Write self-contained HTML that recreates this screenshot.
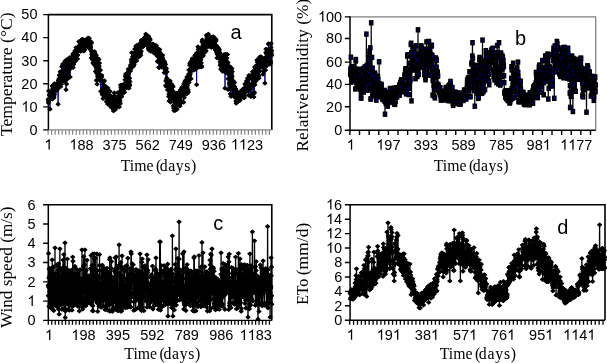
<!DOCTYPE html>
<html><head><meta charset="utf-8"><style>
html,body{margin:0;padding:0;background:#fff;width:607px;height:363px;overflow:hidden;position:relative}
</style></head><body>
<svg width="607" height="363" viewBox="0 0 607 363" style="position:absolute;left:0;top:0;will-change:transform">
<defs><marker id="dm" markerUnits="userSpaceOnUse" markerWidth="8" markerHeight="8" refX="4" refY="4" overflow="visible"><path d="M4 2.4L5.85 4L4 5.6L2.15 4Z" fill="#000" stroke="#000" stroke-width="1.3" stroke-linejoin="round"/></marker><marker id="sm" markerUnits="userSpaceOnUse" markerWidth="8" markerHeight="8" refX="4" refY="4" overflow="visible"><rect x="2.5" y="2.1" width="3" height="3.8" fill="#0000a0" stroke="#000" stroke-width="1.6"/></marker><path id="one" d="M763 0H583V1098Q518 1038 412.5 979Q307 920 223 890V1057Q374 1125 486.5 1221Q599 1318 646 1409H763Z"/></defs>
<path d="M48.40 14.60H271.80V129.90" fill="none" stroke="#000" stroke-width="1.6"/>
<path d="M48.40 13.90V130.60" stroke="#000" stroke-width="1.5"/>
<g transform="translate(29.44 134.70) scale(1 1.065)">
<text x="0.00" y="0" font-family='"Liberation Sans", sans-serif' font-size="14.5">0</text>
</g>
<g transform="translate(21.37 111.64) scale(1 1.065)">
<use href="#one" transform="translate(0.00 0) scale(0.00708 -0.00708)"/>
<text x="8.06" y="0" font-family='"Liberation Sans", sans-serif' font-size="14.5">0</text>
</g>
<g transform="translate(21.37 88.58) scale(1 1.065)">
<text x="0.00" y="0" font-family='"Liberation Sans", sans-serif' font-size="14.5">20</text>
</g>
<g transform="translate(21.37 65.52) scale(1 1.065)">
<text x="0.00" y="0" font-family='"Liberation Sans", sans-serif' font-size="14.5">30</text>
</g>
<g transform="translate(21.37 42.46) scale(1 1.065)">
<text x="0.00" y="0" font-family='"Liberation Sans", sans-serif' font-size="14.5">40</text>
</g>
<g transform="translate(21.37 19.40) scale(1 1.065)">
<text x="0.00" y="0" font-family='"Liberation Sans", sans-serif' font-size="14.5">50</text>
</g>
<path d="M43.20 129.90H48.40M43.20 106.84H48.40M43.20 83.78H48.40M43.20 60.72H48.40M43.20 37.66H48.40M43.20 14.60H48.40" stroke="#000" stroke-width="1.4"/>
<path d="M48.40 129.90H271.80" stroke="#888" stroke-width="1.4"/>
<path d="M48.10 129.9V134.7M51.61 129.9V134.7M55.13 129.9V134.7M58.64 129.9V134.7M62.15 129.9V134.7M65.66 129.9V134.7M69.18 129.9V134.7M72.69 129.9V134.7M76.20 129.9V134.7M79.72 129.9V134.7M83.23 129.9V134.7M86.74 129.9V134.7M90.26 129.9V134.7M93.77 129.9V134.7M97.28 129.9V134.7M100.80 129.9V134.7M104.31 129.9V134.7M107.82 129.9V134.7M111.33 129.9V134.7M114.85 129.9V134.7M118.36 129.9V134.7M121.87 129.9V134.7M125.39 129.9V134.7M128.90 129.9V134.7M132.41 129.9V134.7M135.93 129.9V134.7M139.44 129.9V134.7M142.95 129.9V134.7M146.46 129.9V134.7M149.98 129.9V134.7M153.49 129.9V134.7M157.00 129.9V134.7M160.52 129.9V134.7M164.03 129.9V134.7M167.54 129.9V134.7M171.06 129.9V134.7M174.57 129.9V134.7M178.08 129.9V134.7M181.59 129.9V134.7M185.11 129.9V134.7M188.62 129.9V134.7M192.13 129.9V134.7M195.65 129.9V134.7M199.16 129.9V134.7M202.67 129.9V134.7M206.19 129.9V134.7M209.70 129.9V134.7M213.21 129.9V134.7M216.72 129.9V134.7M220.24 129.9V134.7M223.75 129.9V134.7M227.26 129.9V134.7M230.78 129.9V134.7M234.29 129.9V134.7M237.80 129.9V134.7M241.32 129.9V134.7M244.83 129.9V134.7M248.34 129.9V134.7M251.85 129.9V134.7M255.37 129.9V134.7M258.88 129.9V134.7M262.39 129.9V134.7M265.91 129.9V134.7M269.42 129.9V134.7" stroke="#777" stroke-width="1.1"/>
<g transform="translate(44.37 149.50) scale(1 1.065)">
<use href="#one" transform="translate(0.00 0) scale(0.00708 -0.00708)"/>
</g>
<g transform="translate(69.40 149.50) scale(1 1.065)">
<use href="#one" transform="translate(0.00 0) scale(0.00708 -0.00708)"/>
<text x="8.06" y="0" font-family='"Liberation Sans", sans-serif' font-size="14.5">88</text>
</g>
<g transform="translate(102.50 149.50) scale(1 1.065)">
<text x="0.00" y="0" font-family='"Liberation Sans", sans-serif' font-size="14.5">375</text>
</g>
<g transform="translate(135.60 149.50) scale(1 1.065)">
<text x="0.00" y="0" font-family='"Liberation Sans", sans-serif' font-size="14.5">562</text>
</g>
<g transform="translate(168.70 149.50) scale(1 1.065)">
<text x="0.00" y="0" font-family='"Liberation Sans", sans-serif' font-size="14.5">749</text>
</g>
<g transform="translate(201.80 149.50) scale(1 1.065)">
<text x="0.00" y="0" font-family='"Liberation Sans", sans-serif' font-size="14.5">936</text>
</g>
<g transform="translate(230.87 149.50) scale(1 1.065)">
<use href="#one" transform="translate(0.00 0) scale(0.00708 -0.00708)"/>
<use href="#one" transform="translate(8.06 0) scale(0.00708 -0.00708)"/>
<text x="16.13" y="0" font-family='"Liberation Sans", sans-serif' font-size="14.5">23</text>
</g>
<path d="M350.00 16.90H595.70V130.20" fill="none" stroke="#808080" stroke-width="1.3"/>
<path d="M350.00 16.20V130.90" stroke="#000" stroke-width="1.5"/>
<g transform="translate(334.14 135.00) scale(1 1.065)">
<text x="0.00" y="0" font-family='"Liberation Sans", sans-serif' font-size="14.5">0</text>
</g>
<g transform="translate(326.07 111.50) scale(1 1.065)">
<text x="0.00" y="0" font-family='"Liberation Sans", sans-serif' font-size="14.5">20</text>
</g>
<g transform="translate(326.07 89.20) scale(1 1.065)">
<text x="0.00" y="0" font-family='"Liberation Sans", sans-serif' font-size="14.5">40</text>
</g>
<g transform="translate(326.07 66.90) scale(1 1.065)">
<text x="0.00" y="0" font-family='"Liberation Sans", sans-serif' font-size="14.5">60</text>
</g>
<g transform="translate(326.07 43.30) scale(1 1.065)">
<text x="0.00" y="0" font-family='"Liberation Sans", sans-serif' font-size="14.5">80</text>
</g>
<g transform="translate(318.01 21.70) scale(1 1.065)">
<use href="#one" transform="translate(0.00 0) scale(0.00708 -0.00708)"/>
<text x="8.06" y="0" font-family='"Liberation Sans", sans-serif' font-size="14.5">00</text>
</g>
<path d="M344.80 130.20H350.00M344.80 106.70H350.00M344.80 84.40H350.00M344.80 62.10H350.00M344.80 38.50H350.00M344.80 16.90H350.00" stroke="#000" stroke-width="1.4"/>
<path d="M350.00 130.20H595.70" stroke="#000" stroke-width="1.4"/>
<path d="M349.90 130.2V134.9M359.52 130.2V134.9M369.15 130.2V134.9M378.77 130.2V134.9M388.40 130.2V134.9M398.02 130.2V134.9M407.64 130.2V134.9M417.27 130.2V134.9M426.89 130.2V134.9M436.52 130.2V134.9M446.14 130.2V134.9M455.76 130.2V134.9M465.39 130.2V134.9M475.01 130.2V134.9M484.64 130.2V134.9M494.26 130.2V134.9M503.88 130.2V134.9M513.51 130.2V134.9M523.13 130.2V134.9M532.76 130.2V134.9M542.38 130.2V134.9M552.00 130.2V134.9M561.63 130.2V134.9M571.25 130.2V134.9M580.88 130.2V134.9M590.50 130.2V134.9" stroke="#000" stroke-width="1.4"/>
<g transform="translate(346.77 149.80) scale(1 1.065)">
<use href="#one" transform="translate(0.00 0) scale(0.00708 -0.00708)"/>
</g>
<g transform="translate(376.28 149.80) scale(1 1.065)">
<use href="#one" transform="translate(0.00 0) scale(0.00708 -0.00708)"/>
<text x="8.06" y="0" font-family='"Liberation Sans", sans-serif' font-size="14.5">97</text>
</g>
<g transform="translate(413.86 149.80) scale(1 1.065)">
<text x="0.00" y="0" font-family='"Liberation Sans", sans-serif' font-size="14.5">393</text>
</g>
<g transform="translate(451.44 149.80) scale(1 1.065)">
<text x="0.00" y="0" font-family='"Liberation Sans", sans-serif' font-size="14.5">589</text>
</g>
<g transform="translate(489.02 149.80) scale(1 1.065)">
<text x="0.00" y="0" font-family='"Liberation Sans", sans-serif' font-size="14.5">785</text>
</g>
<g transform="translate(526.60 149.80) scale(1 1.065)">
<text x="0.00" y="0" font-family='"Liberation Sans", sans-serif' font-size="14.5">98</text>
<use href="#one" transform="translate(16.13 0) scale(0.00708 -0.00708)"/>
</g>
<g transform="translate(560.15 149.80) scale(1 1.065)">
<use href="#one" transform="translate(0.00 0) scale(0.00708 -0.00708)"/>
<use href="#one" transform="translate(8.06 0) scale(0.00708 -0.00708)"/>
<text x="16.13" y="0" font-family='"Liberation Sans", sans-serif' font-size="14.5">77</text>
</g>
<path d="M48.30 204.70H271.80V320.40" fill="none" stroke="#000" stroke-width="1.6"/>
<path d="M48.30 204.00V321.10" stroke="#000" stroke-width="1.5"/>
<g transform="translate(27.44 325.20) scale(1 1.065)">
<text x="0.00" y="0" font-family='"Liberation Sans", sans-serif' font-size="14.5">0</text>
</g>
<g transform="translate(27.44 305.92) scale(1 1.065)">
<use href="#one" transform="translate(0.00 0) scale(0.00708 -0.00708)"/>
</g>
<g transform="translate(27.44 286.63) scale(1 1.065)">
<text x="0.00" y="0" font-family='"Liberation Sans", sans-serif' font-size="14.5">2</text>
</g>
<g transform="translate(27.44 267.35) scale(1 1.065)">
<text x="0.00" y="0" font-family='"Liberation Sans", sans-serif' font-size="14.5">3</text>
</g>
<g transform="translate(27.44 248.07) scale(1 1.065)">
<text x="0.00" y="0" font-family='"Liberation Sans", sans-serif' font-size="14.5">4</text>
</g>
<g transform="translate(27.44 228.78) scale(1 1.065)">
<text x="0.00" y="0" font-family='"Liberation Sans", sans-serif' font-size="14.5">5</text>
</g>
<g transform="translate(27.44 209.50) scale(1 1.065)">
<text x="0.00" y="0" font-family='"Liberation Sans", sans-serif' font-size="14.5">6</text>
</g>
<path d="M43.10 320.40H48.30M43.10 301.12H48.30M43.10 281.83H48.30M43.10 262.55H48.30M43.10 243.27H48.30M43.10 223.98H48.30M43.10 204.70H48.30" stroke="#000" stroke-width="1.4"/>
<path d="M48.30 320.40H271.80" stroke="#000" stroke-width="1.4"/>
<path d="M48.30 320.4V324.7M51.75 320.4V324.7M55.21 320.4V324.7M58.66 320.4V324.7M62.12 320.4V324.7M65.57 320.4V324.7M69.03 320.4V324.7M72.48 320.4V324.7M75.94 320.4V324.7M79.39 320.4V324.7M82.85 320.4V324.7M86.30 320.4V324.7M89.76 320.4V324.7M93.21 320.4V324.7M96.67 320.4V324.7M100.12 320.4V324.7M103.58 320.4V324.7M107.03 320.4V324.7M110.49 320.4V324.7M113.94 320.4V324.7M117.40 320.4V324.7M120.85 320.4V324.7M124.31 320.4V324.7M127.76 320.4V324.7M131.22 320.4V324.7M134.67 320.4V324.7M138.13 320.4V324.7M141.59 320.4V324.7M145.04 320.4V324.7M148.50 320.4V324.7M151.95 320.4V324.7M155.41 320.4V324.7M158.86 320.4V324.7M162.32 320.4V324.7M165.77 320.4V324.7M169.23 320.4V324.7M172.68 320.4V324.7M176.14 320.4V324.7M179.59 320.4V324.7M183.05 320.4V324.7M186.50 320.4V324.7M189.96 320.4V324.7M193.41 320.4V324.7M196.87 320.4V324.7M200.32 320.4V324.7M203.78 320.4V324.7M207.23 320.4V324.7M210.69 320.4V324.7M214.14 320.4V324.7M217.60 320.4V324.7M221.05 320.4V324.7M224.51 320.4V324.7M227.96 320.4V324.7M231.42 320.4V324.7M234.87 320.4V324.7M238.33 320.4V324.7M241.78 320.4V324.7M245.24 320.4V324.7M248.69 320.4V324.7M252.15 320.4V324.7M255.60 320.4V324.7M259.06 320.4V324.7M262.51 320.4V324.7M265.97 320.4V324.7M269.42 320.4V324.7" stroke="#000" stroke-width="1.3"/>
<g transform="translate(44.97 340.00) scale(1 1.065)">
<use href="#one" transform="translate(0.00 0) scale(0.00708 -0.00708)"/>
</g>
<g transform="translate(71.35 340.00) scale(1 1.065)">
<use href="#one" transform="translate(0.00 0) scale(0.00708 -0.00708)"/>
<text x="8.06" y="0" font-family='"Liberation Sans", sans-serif' font-size="14.5">98</text>
</g>
<g transform="translate(105.80 340.00) scale(1 1.065)">
<text x="0.00" y="0" font-family='"Liberation Sans", sans-serif' font-size="14.5">395</text>
</g>
<g transform="translate(140.25 340.00) scale(1 1.065)">
<text x="0.00" y="0" font-family='"Liberation Sans", sans-serif' font-size="14.5">592</text>
</g>
<g transform="translate(174.70 340.00) scale(1 1.065)">
<text x="0.00" y="0" font-family='"Liberation Sans", sans-serif' font-size="14.5">789</text>
</g>
<g transform="translate(209.15 340.00) scale(1 1.065)">
<text x="0.00" y="0" font-family='"Liberation Sans", sans-serif' font-size="14.5">986</text>
</g>
<g transform="translate(239.57 340.00) scale(1 1.065)">
<use href="#one" transform="translate(0.00 0) scale(0.00708 -0.00708)"/>
<use href="#one" transform="translate(8.06 0) scale(0.00708 -0.00708)"/>
<text x="16.13" y="0" font-family='"Liberation Sans", sans-serif' font-size="14.5">83</text>
</g>
<path d="M350.10 204.80H605.00V320.20" fill="none" stroke="#000" stroke-width="1.6"/>
<path d="M350.10 204.10V320.90" stroke="#000" stroke-width="1.5"/>
<g transform="translate(334.14 325.00) scale(1 1.065)">
<text x="0.00" y="0" font-family='"Liberation Sans", sans-serif' font-size="14.5">0</text>
</g>
<g transform="translate(334.14 310.57) scale(1 1.065)">
<text x="0.00" y="0" font-family='"Liberation Sans", sans-serif' font-size="14.5">2</text>
</g>
<g transform="translate(334.14 296.15) scale(1 1.065)">
<text x="0.00" y="0" font-family='"Liberation Sans", sans-serif' font-size="14.5">4</text>
</g>
<g transform="translate(334.14 281.73) scale(1 1.065)">
<text x="0.00" y="0" font-family='"Liberation Sans", sans-serif' font-size="14.5">6</text>
</g>
<g transform="translate(334.14 267.30) scale(1 1.065)">
<text x="0.00" y="0" font-family='"Liberation Sans", sans-serif' font-size="14.5">8</text>
</g>
<g transform="translate(326.07 252.88) scale(1 1.065)">
<use href="#one" transform="translate(0.00 0) scale(0.00708 -0.00708)"/>
<text x="8.06" y="0" font-family='"Liberation Sans", sans-serif' font-size="14.5">0</text>
</g>
<g transform="translate(326.07 238.45) scale(1 1.065)">
<use href="#one" transform="translate(0.00 0) scale(0.00708 -0.00708)"/>
<text x="8.06" y="0" font-family='"Liberation Sans", sans-serif' font-size="14.5">2</text>
</g>
<g transform="translate(326.07 224.03) scale(1 1.065)">
<use href="#one" transform="translate(0.00 0) scale(0.00708 -0.00708)"/>
<text x="8.06" y="0" font-family='"Liberation Sans", sans-serif' font-size="14.5">4</text>
</g>
<g transform="translate(326.07 209.60) scale(1 1.065)">
<use href="#one" transform="translate(0.00 0) scale(0.00708 -0.00708)"/>
<text x="8.06" y="0" font-family='"Liberation Sans", sans-serif' font-size="14.5">6</text>
</g>
<path d="M344.90 320.20H350.10M344.90 305.77H350.10M344.90 291.35H350.10M344.90 276.93H350.10M344.90 262.50H350.10M344.90 248.07H350.10M344.90 233.65H350.10M344.90 219.23H350.10M344.90 204.80H350.10" stroke="#000" stroke-width="1.4"/>
<path d="M350.10 320.20H605.00" stroke="#000" stroke-width="1.4"/>
<path d="M349.70 320.2V324.8M353.60 320.2V324.8M357.49 320.2V324.8M361.39 320.2V324.8M365.29 320.2V324.8M369.18 320.2V324.8M373.08 320.2V324.8M376.98 320.2V324.8M380.88 320.2V324.8M384.77 320.2V324.8M388.67 320.2V324.8M392.57 320.2V324.8M396.46 320.2V324.8M400.36 320.2V324.8M404.26 320.2V324.8M408.15 320.2V324.8M412.05 320.2V324.8M415.95 320.2V324.8M419.85 320.2V324.8M423.74 320.2V324.8M427.64 320.2V324.8M431.54 320.2V324.8M435.43 320.2V324.8M439.33 320.2V324.8M443.23 320.2V324.8M447.12 320.2V324.8M451.02 320.2V324.8M454.92 320.2V324.8M458.82 320.2V324.8M462.71 320.2V324.8M466.61 320.2V324.8M470.51 320.2V324.8M474.40 320.2V324.8M478.30 320.2V324.8M482.20 320.2V324.8M486.09 320.2V324.8M489.99 320.2V324.8M493.89 320.2V324.8M497.79 320.2V324.8M501.68 320.2V324.8M505.58 320.2V324.8M509.48 320.2V324.8M513.37 320.2V324.8M517.27 320.2V324.8M521.17 320.2V324.8M525.06 320.2V324.8M528.96 320.2V324.8M532.86 320.2V324.8M536.76 320.2V324.8M540.65 320.2V324.8M544.55 320.2V324.8M548.45 320.2V324.8M552.34 320.2V324.8M556.24 320.2V324.8M560.14 320.2V324.8M564.04 320.2V324.8M567.93 320.2V324.8M571.83 320.2V324.8M575.73 320.2V324.8M579.62 320.2V324.8M583.52 320.2V324.8M587.42 320.2V324.8M591.31 320.2V324.8M595.21 320.2V324.8M599.11 320.2V324.8M603.01 320.2V324.8" stroke="#000" stroke-width="1.3"/>
<g transform="translate(346.77 339.80) scale(1 1.065)">
<use href="#one" transform="translate(0.00 0) scale(0.00708 -0.00708)"/>
</g>
<g transform="translate(376.78 339.80) scale(1 1.065)">
<use href="#one" transform="translate(0.00 0) scale(0.00708 -0.00708)"/>
<text x="8.06" y="0" font-family='"Liberation Sans", sans-serif' font-size="14.5">9</text>
<use href="#one" transform="translate(16.13 0) scale(0.00708 -0.00708)"/>
</g>
<g transform="translate(414.86 339.80) scale(1 1.065)">
<text x="0.00" y="0" font-family='"Liberation Sans", sans-serif' font-size="14.5">38</text>
<use href="#one" transform="translate(16.13 0) scale(0.00708 -0.00708)"/>
</g>
<g transform="translate(452.94 339.80) scale(1 1.065)">
<text x="0.00" y="0" font-family='"Liberation Sans", sans-serif' font-size="14.5">57</text>
<use href="#one" transform="translate(16.13 0) scale(0.00708 -0.00708)"/>
</g>
<g transform="translate(491.02 339.80) scale(1 1.065)">
<text x="0.00" y="0" font-family='"Liberation Sans", sans-serif' font-size="14.5">76</text>
<use href="#one" transform="translate(16.13 0) scale(0.00708 -0.00708)"/>
</g>
<g transform="translate(529.10 339.80) scale(1 1.065)">
<text x="0.00" y="0" font-family='"Liberation Sans", sans-serif' font-size="14.5">95</text>
<use href="#one" transform="translate(16.13 0) scale(0.00708 -0.00708)"/>
</g>
<g transform="translate(563.15 339.80) scale(1 1.065)">
<use href="#one" transform="translate(0.00 0) scale(0.00708 -0.00708)"/>
<use href="#one" transform="translate(8.06 0) scale(0.00708 -0.00708)"/>
<text x="16.13" y="0" font-family='"Liberation Sans", sans-serif' font-size="14.5">4</text>
<use href="#one" transform="translate(24.19 0) scale(0.00708 -0.00708)"/>
</g>
<polyline points="48.2,99.4 48.4,102.8 48.6,101.0 48.7,90.9 48.9,99.9 49.1,100.2 49.3,95.0 49.4,99.0 49.6,99.2 49.8,98.7 50.0,109.2 50.1,99.1 50.3,93.5 50.5,94.2 50.7,93.0 50.8,97.3 51.0,96.2 51.2,94.2 51.4,91.2 51.6,92.3 51.7,93.5 51.9,92.6 52.1,98.5 52.3,99.2 52.4,85.9 52.6,85.7 52.8,88.3 53.0,89.2 53.1,91.8 53.3,92.5 53.5,98.2 53.7,89.9 53.8,89.0 54.0,97.1 54.2,95.0 54.4,94.0 54.6,89.3 54.7,83.6 54.9,87.7 55.1,88.8 55.3,84.5 55.4,84.8 55.6,86.8 55.8,84.4 56.0,86.4 56.1,87.6 56.3,87.7 56.5,85.8 56.7,88.8 56.8,90.7 57.0,89.3 57.2,84.8 57.4,88.4 57.6,85.4 57.7,88.9 57.9,83.4 58.1,104.2 58.3,86.1 58.4,80.2 58.6,81.3 58.8,83.0 59.0,84.4 59.1,78.6 59.3,75.3 59.5,80.4 59.7,78.4 59.8,81.3 60.0,85.1 60.2,71.7 60.4,78.2 60.6,86.7 60.7,79.4 60.9,72.9 61.1,81.2 61.3,80.4 61.4,84.2 61.6,76.9 61.8,66.7 62.0,72.0 62.1,71.5 62.3,78.8 62.5,77.4 62.7,65.6 62.8,64.1 63.0,75.7 63.2,78.7 63.4,71.8 63.6,73.3 63.7,76.7 63.9,78.1 64.1,81.4 64.3,78.5 64.4,75.1 64.6,72.8 64.8,81.3 65.0,61.2 65.1,68.4 65.3,72.5 65.5,62.9 65.7,72.9 65.8,68.8 66.0,89.7 66.2,74.6 66.4,78.8 66.6,84.0 66.7,79.1 66.9,67.9 67.1,59.3 67.3,79.1 67.4,72.6 67.6,66.1 67.8,69.2 68.0,67.7 68.1,73.8 68.3,70.7 68.5,69.3 68.7,64.3 68.8,69.7 69.0,62.5 69.2,69.9 69.4,77.3 69.6,62.3 69.7,57.5 69.9,65.4 70.1,77.0 70.3,66.3 70.4,60.2 70.6,67.5 70.8,62.7 71.0,62.6 71.1,63.1 71.3,67.5 71.5,64.0 71.7,66.1 71.8,64.2 72.0,59.7 72.2,60.7 72.4,57.3 72.6,61.1 72.7,55.9 72.9,53.9 73.1,67.6 73.3,63.6 73.4,61.9 73.6,64.4 73.8,59.5 74.0,58.7 74.1,61.9 74.3,61.7 74.5,53.3 74.7,60.8 74.8,55.6 75.0,51.5 75.2,50.6 75.4,52.4 75.6,60.8 75.7,52.2 75.9,54.0 76.1,47.6 76.3,50.8 76.4,55.5 76.6,52.7 76.8,50.0 77.0,52.1 77.1,54.6 77.3,55.2 77.5,58.8 77.7,55.1 77.8,49.2 78.0,49.0 78.2,48.9 78.4,49.4 78.6,48.7 78.7,49.0 78.9,41.6 79.1,48.6 79.3,45.4 79.4,42.0 79.6,46.9 79.8,50.5 80.0,48.6 80.1,47.0 80.3,43.1 80.5,51.1 80.7,51.1 80.8,43.8 81.0,42.3 81.2,44.6 81.4,40.1 81.6,44.0 81.7,43.3 81.9,48.6 82.1,49.5 82.3,39.3 82.4,42.7 82.6,39.2 82.8,46.7 83.0,46.2 83.1,47.3 83.3,42.3 83.5,50.2 83.7,51.2 83.8,44.4 84.0,46.1 84.2,43.0 84.4,44.1 84.6,40.2 84.7,49.7 84.9,43.1 85.1,43.1 85.3,45.9 85.4,42.7 85.6,43.0 85.8,41.9 86.0,43.1 86.1,39.6 86.3,41.1 86.5,42.4 86.7,42.4 86.8,43.8 87.0,42.9 87.2,46.7 87.4,43.8 87.6,43.4 87.7,41.2 87.9,40.9 88.1,37.9 88.3,44.4 88.4,40.0 88.6,40.3 88.8,45.3 89.0,47.4 89.1,44.9 89.3,38.4 89.5,45.3 89.7,47.7 89.8,41.2 90.0,49.1 90.2,45.2 90.4,42.0 90.6,46.9 90.7,47.5 90.9,49.8 91.1,41.9 91.3,57.9 91.4,51.0 91.6,42.9 91.8,54.4 92.0,52.6 92.1,57.5 92.3,54.9 92.5,56.7 92.7,60.0 92.8,53.5 93.0,62.9 93.2,57.4 93.4,52.9 93.6,58.8 93.7,63.8 93.9,61.0 94.1,55.9 94.3,64.8 94.4,51.5 94.6,52.3 94.8,60.3 95.0,53.7 95.1,61.3 95.3,63.7 95.5,71.4 95.7,61.8 95.8,60.8 96.0,67.3 96.2,55.2 96.4,80.3 96.6,69.0 96.7,64.1 96.9,73.4 97.1,84.2 97.3,58.0 97.4,70.2 97.6,76.3 97.8,69.4 98.0,68.2 98.1,73.5 98.3,65.2 98.5,72.5 98.7,73.4 98.8,67.2 99.0,59.4 99.2,65.9 99.4,63.1 99.6,77.3 99.7,75.6 99.9,80.4 100.1,77.2 100.3,77.8 100.4,70.2 100.6,79.8 100.8,91.3 101.0,81.0 101.1,75.6 101.3,77.6 101.5,76.6 101.7,75.3 101.8,81.6 102.0,81.3 102.2,93.9 102.4,88.8 102.6,89.9 102.7,95.0 102.9,89.1 103.1,98.6 103.3,88.7 103.4,84.4 103.6,86.0 103.8,88.3 104.0,81.5 104.1,87.6 104.3,80.6 104.5,96.1 104.7,93.1 104.9,89.0 105.0,86.3 105.2,88.6 105.4,90.5 105.6,86.8 105.7,86.4 105.9,90.4 106.1,90.1 106.3,97.8 106.4,101.6 106.6,97.2 106.8,98.1 107.0,89.4 107.1,96.4 107.3,95.6 107.5,97.9 107.7,104.1 107.9,88.1 108.0,94.6 108.2,90.7 108.4,97.5 108.6,91.0 108.7,92.8 108.9,97.1 109.1,100.8 109.3,99.7 109.4,95.1 109.6,94.9 109.8,102.4 110.0,100.7 110.1,91.4 110.3,101.7 110.5,103.3 110.7,106.6 110.9,101.4 111.0,106.1 111.2,97.2 111.4,103.1 111.6,99.3 111.7,104.4 111.9,107.9 112.1,99.6 112.3,100.5 112.4,101.2 112.6,107.7 112.8,107.4 113.0,96.8 113.1,102.1 113.3,105.5 113.5,110.9 113.7,96.7 113.9,96.7 114.0,106.7 114.2,95.9 114.4,92.9 114.6,100.9 114.7,106.3 114.9,99.4 115.1,103.3 115.3,102.5 115.4,109.4 115.6,104.1 115.8,107.3 116.0,98.9 116.1,99.7 116.3,100.4 116.5,106.8 116.7,106.3 116.9,99.7 117.0,104.3 117.2,106.4 117.4,103.0 117.6,101.0 117.7,100.3 117.9,92.6 118.1,98.6 118.3,100.7 118.4,95.8 118.6,101.8 118.8,93.0 119.0,93.7 119.1,94.1 119.3,107.0 119.5,92.2 119.7,98.4 119.9,102.4 120.0,100.5 120.2,103.7 120.4,92.6 120.6,85.1 120.7,93.7 120.9,87.2 121.1,89.2 121.3,85.1 121.4,94.7 121.6,96.7 121.8,89.1 122.0,94.1 122.1,91.6 122.3,89.2 122.5,88.9 122.7,87.2 122.9,90.2 123.0,89.6 123.2,86.0 123.4,90.8 123.6,84.7 123.7,86.5 123.9,87.5 124.1,92.4 124.3,84.7 124.4,92.2 124.6,87.3 124.8,83.6 125.0,79.8 125.1,84.0 125.3,82.8 125.5,76.6 125.7,74.0 125.9,75.5 126.0,75.2 126.2,83.6 126.4,87.9 126.6,86.7 126.7,83.4 126.9,77.7 127.1,78.1 127.3,82.5 127.4,87.3 127.6,86.9 127.8,78.4 128.0,77.0 128.1,73.0 128.3,69.2 128.5,71.2 128.7,74.1 128.9,85.9 129.0,88.2 129.2,84.1 129.4,85.5 129.6,78.2 129.7,85.2 129.9,81.6 130.1,70.2 130.3,71.2 130.4,69.1 130.6,66.0 130.8,64.7 131.0,66.3 131.1,68.3 131.3,59.5 131.5,61.9 131.7,52.7 131.9,60.3 132.0,64.5 132.2,62.6 132.4,62.2 132.6,63.1 132.7,56.7 132.9,56.5 133.1,60.1 133.3,63.6 133.4,61.5 133.6,66.1 133.8,61.4 134.0,63.0 134.1,64.6 134.3,58.3 134.5,52.8 134.7,49.1 134.9,53.8 135.0,59.3 135.2,57.4 135.4,56.1 135.6,53.2 135.7,56.2 135.9,46.0 136.1,51.8 136.3,53.0 136.4,47.1 136.6,60.8 136.8,49.5 137.0,46.8 137.1,45.2 137.3,55.0 137.5,49.2 137.7,54.2 137.9,55.5 138.0,54.4 138.2,46.5 138.4,46.9 138.6,57.2 138.7,47.2 138.9,45.7 139.1,48.0 139.3,53.0 139.4,52.1 139.6,53.7 139.8,46.2 140.0,52.2 140.1,52.5 140.3,43.0 140.5,53.2 140.7,55.3 140.9,48.1 141.0,47.3 141.2,51.2 141.4,42.9 141.6,40.2 141.7,40.2 141.9,41.2 142.1,41.5 142.3,44.0 142.4,43.9 142.6,40.1 142.8,42.8 143.0,46.6 143.1,46.3 143.3,45.6 143.5,42.6 143.7,43.9 143.9,38.8 144.0,41.6 144.2,40.3 144.4,43.2 144.6,42.4 144.7,37.5 144.9,39.3 145.1,43.2 145.3,37.5 145.4,37.2 145.6,36.4 145.8,34.0 146.0,40.5 146.1,44.1 146.3,44.0 146.5,42.4 146.7,40.9 146.9,41.5 147.0,38.6 147.2,43.3 147.4,45.6 147.6,46.3 147.7,41.4 147.9,42.0 148.1,41.4 148.3,48.7 148.4,45.4 148.6,36.3 148.8,42.1 149.0,50.2 149.1,48.6 149.3,49.1 149.5,46.4 149.7,38.6 149.9,39.2 150.0,40.0 150.2,43.8 150.4,47.2 150.6,49.8 150.7,47.9 150.9,51.4 151.1,49.1 151.3,47.0 151.4,50.6 151.6,47.0 151.8,44.0 152.0,44.0 152.1,47.1 152.3,44.0 152.5,44.7 152.7,46.5 152.9,44.2 153.0,44.0 153.2,45.6 153.4,46.1 153.6,50.9 153.7,50.3 153.9,45.2 154.1,45.2 154.3,49.2 154.4,53.2 154.6,51.5 154.8,50.5 155.0,53.4 155.1,50.8 155.3,48.9 155.5,45.5 155.7,46.7 155.9,53.8 156.0,47.4 156.2,48.8 156.4,45.7 156.6,48.9 156.7,52.8 156.9,51.1 157.1,54.3 157.3,56.1 157.4,56.1 157.6,61.7 157.8,61.1 158.0,55.3 158.1,51.3 158.3,48.9 158.5,56.3 158.7,54.2 158.9,67.3 159.0,67.6 159.2,61.3 159.4,56.6 159.6,67.5 159.7,49.5 159.9,52.2 160.1,61.9 160.3,54.1 160.4,54.2 160.6,55.4 160.8,62.0 161.0,61.4 161.1,62.9 161.3,64.6 161.5,62.5 161.7,67.2 161.9,60.4 162.0,55.4 162.2,54.9 162.4,55.7 162.6,57.9 162.7,66.4 162.9,66.3 163.1,63.4 163.3,60.7 163.4,62.5 163.6,64.0 163.8,64.2 164.0,60.8 164.1,64.2 164.3,72.7 164.5,61.9 164.7,66.8 164.9,63.0 165.0,69.4 165.2,68.5 165.4,64.6 165.6,71.1 165.7,85.4 165.9,81.0 166.1,86.5 166.3,81.3 166.4,68.4 166.6,79.1 166.8,78.2 167.0,71.8 167.1,84.3 167.3,86.1 167.5,82.1 167.7,90.1 167.9,82.3 168.0,89.8 168.2,82.5 168.4,89.8 168.6,82.2 168.7,96.5 168.9,93.9 169.1,101.0 169.3,89.2 169.4,87.7 169.6,96.0 169.8,80.7 170.0,81.3 170.1,95.7 170.3,97.7 170.5,102.1 170.7,95.4 170.9,99.2 171.0,92.1 171.2,85.4 171.4,84.0 171.6,87.6 171.7,90.2 171.9,90.8 172.1,85.4 172.3,85.6 172.4,86.5 172.6,96.3 172.8,93.9 173.0,91.2 173.1,86.8 173.3,105.9 173.5,94.3 173.7,108.2 173.9,110.6 174.0,105.6 174.2,98.1 174.4,99.9 174.6,92.8 174.7,99.0 174.9,99.7 175.1,103.0 175.3,106.7 175.4,110.5 175.6,102.4 175.8,107.0 176.0,98.4 176.1,94.9 176.3,95.2 176.5,93.4 176.7,103.3 176.9,106.4 177.0,109.3 177.2,103.4 177.4,102.9 177.6,98.4 177.7,93.8 177.9,100.5 178.1,101.8 178.3,95.4 178.4,101.6 178.6,92.3 178.8,96.6 179.0,95.6 179.1,95.5 179.3,92.5 179.5,101.6 179.7,102.6 179.9,106.0 180.0,101.6 180.2,92.4 180.4,93.7 180.6,89.7 180.7,96.8 180.9,103.1 181.1,100.5 181.3,94.3 181.4,93.1 181.6,95.7 181.8,87.4 182.0,93.1 182.1,95.2 182.3,91.8 182.5,91.2 182.7,94.0 182.9,89.6 183.0,87.9 183.2,95.6 183.4,95.2 183.6,102.3 183.7,91.1 183.9,83.8 184.1,93.8 184.3,97.4 184.4,90.0 184.6,83.5 184.8,88.0 185.0,81.8 185.1,85.1 185.3,81.0 185.5,83.8 185.7,80.2 185.9,83.0 186.0,94.2 186.2,88.6 186.4,91.8 186.6,85.4 186.7,81.5 186.9,77.1 187.1,87.8 187.3,85.6 187.4,93.4 187.6,80.7 187.8,81.0 188.0,82.3 188.1,89.8 188.3,92.0 188.5,81.8 188.7,74.2 188.9,69.9 189.0,82.6 189.2,79.2 189.4,74.4 189.6,75.5 189.7,65.2 189.9,63.5 190.1,72.8 190.3,73.9 190.4,71.8 190.6,62.4 190.8,69.0 191.0,78.8 191.1,61.4 191.3,64.0 191.5,61.8 191.7,66.4 191.9,65.6 192.0,64.2 192.2,58.7 192.4,62.6 192.6,59.9 192.7,62.1 192.9,63.3 193.1,68.4 193.3,62.1 193.4,61.5 193.6,70.1 193.8,64.6 194.0,62.3 194.1,68.3 194.3,66.5 194.5,64.6 194.7,64.5 194.9,55.8 195.0,62.5 195.2,69.4 195.4,67.4 195.6,54.8 195.7,60.3 195.9,55.7 196.1,57.5 196.3,59.8 196.4,53.3 196.6,84.7 196.8,60.5 197.0,63.6 197.1,63.6 197.3,67.4 197.5,67.7 197.7,52.6 197.9,55.6 198.0,46.8 198.2,49.4 198.4,57.7 198.6,61.7 198.7,65.3 198.9,56.1 199.1,57.0 199.3,55.6 199.4,63.1 199.6,66.8 199.8,55.4 200.0,66.9 200.1,63.0 200.3,52.9 200.5,57.1 200.7,59.9 200.9,59.1 201.0,49.1 201.2,62.9 201.4,56.1 201.6,65.9 201.7,67.0 201.9,46.9 202.1,41.8 202.3,39.9 202.4,48.5 202.6,49.5 202.8,50.9 203.0,44.0 203.1,49.1 203.3,55.8 203.5,42.6 203.7,44.0 203.9,46.2 204.0,44.9 204.2,44.1 204.4,52.2 204.6,52.6 204.7,51.0 204.9,43.4 205.1,51.9 205.3,48.7 205.4,43.0 205.6,41.9 205.8,40.7 206.0,50.8 206.1,46.6 206.3,44.3 206.5,35.2 206.7,42.5 206.9,37.9 207.0,35.9 207.2,42.2 207.4,38.2 207.6,43.6 207.7,46.5 207.9,35.7 208.1,38.6 208.3,34.0 208.4,38.4 208.6,43.8 208.8,36.9 209.0,46.6 209.1,42.1 209.3,37.3 209.5,39.6 209.7,43.8 209.9,37.5 210.0,40.3 210.2,36.5 210.4,44.2 210.6,43.2 210.7,41.0 210.9,45.1 211.1,38.7 211.3,39.6 211.4,47.3 211.6,43.5 211.8,47.1 212.0,44.5 212.1,40.6 212.3,40.8 212.5,41.9 212.7,40.8 212.9,39.0 213.0,38.6 213.2,36.6 213.4,40.5 213.6,42.9 213.7,44.9 213.9,37.5 214.1,43.2 214.3,42.6 214.4,38.0 214.6,41.5 214.8,45.4 215.0,46.3 215.1,47.6 215.3,49.3 215.5,50.1 215.7,47.3 215.9,39.3 216.0,40.9 216.2,46.5 216.4,45.4 216.6,50.2 216.7,52.8 216.9,50.8 217.1,57.9 217.3,48.8 217.4,54.6 217.6,50.2 217.8,47.3 218.0,53.8 218.2,50.0 218.3,57.1 218.5,48.5 218.7,52.6 218.9,49.2 219.0,52.0 219.2,52.9 219.4,49.7 219.6,58.9 219.7,52.8 219.9,52.9 220.1,61.8 220.3,65.3 220.4,65.3 220.6,63.9 220.8,69.3 221.0,59.5 221.2,57.3 221.3,55.5 221.5,63.7 221.7,63.9 221.9,68.0 222.0,68.9 222.2,63.8 222.4,59.4 222.6,57.1 222.7,71.5 222.9,71.0 223.1,69.1 223.3,63.9 223.4,62.8 223.6,61.8 223.8,61.6 224.0,54.5 224.2,59.0 224.3,60.5 224.5,64.9 224.7,66.1 224.9,70.5 225.0,88.2 225.2,70.8 225.4,54.4 225.6,54.4 225.7,72.6 225.9,60.4 226.1,62.3 226.3,69.6 226.4,61.7 226.6,70.5 226.8,58.3 227.0,54.5 227.2,54.5 227.3,54.6 227.5,62.7 227.7,65.2 227.9,72.3 228.0,62.4 228.2,89.7 228.4,79.0 228.6,74.6 228.7,78.2 228.9,72.7 229.1,67.0 229.3,72.4 229.4,83.1 229.6,84.5 229.8,88.1 230.0,73.9 230.2,66.7 230.3,94.0 230.5,80.2 230.7,83.6 230.9,87.8 231.0,96.5 231.2,73.1 231.4,74.2 231.6,75.8 231.7,78.2 231.9,68.6 232.1,76.6 232.3,71.4 232.4,80.3 232.6,89.7 232.8,93.8 233.0,82.9 233.2,94.5 233.3,86.2 233.5,81.4 233.7,81.8 233.9,83.2 234.0,90.2 234.2,96.6 234.4,82.6 234.6,86.6 234.7,96.1 234.9,95.8 235.1,97.4 235.3,88.5 235.4,97.3 235.6,89.2 235.8,94.3 236.0,101.0 236.2,103.3 236.3,101.3 236.5,101.4 236.7,95.7 236.9,94.4 237.0,100.2 237.2,97.9 237.4,96.8 237.6,92.1 237.7,95.9 237.9,98.9 238.1,95.4 238.3,95.2 238.4,101.4 238.6,99.1 238.8,96.9 239.0,93.5 239.2,93.8 239.3,94.9 239.5,99.5 239.7,95.7 239.9,100.5 240.0,95.1 240.2,94.6 240.4,97.2 240.6,95.4 240.7,93.3 240.9,94.1 241.1,95.5 241.3,90.6 241.4,92.2 241.6,92.9 241.8,92.1 242.0,94.9 242.2,91.8 242.3,91.1 242.5,91.9 242.7,94.5 242.9,91.8 243.0,97.4 243.2,89.7 243.4,95.7 243.6,88.6 243.7,88.8 243.9,91.0 244.1,98.0 244.3,97.1 244.4,89.6 244.6,95.4 244.8,89.4 245.0,83.9 245.2,88.5 245.3,87.9 245.5,92.5 245.7,85.1 245.9,87.8 246.0,90.2 246.2,88.6 246.4,86.0 246.6,80.9 246.7,89.4 246.9,87.4 247.1,89.1 247.3,84.2 247.4,84.8 247.6,78.2 247.8,83.2 248.0,89.3 248.2,87.1 248.3,91.3 248.5,89.2 248.7,95.3 248.9,87.4 249.0,75.3 249.2,84.5 249.4,83.9 249.6,78.7 249.7,87.1 249.9,87.6 250.1,89.0 250.3,84.7 250.4,86.5 250.6,87.5 250.8,96.6 251.0,85.6 251.2,85.7 251.3,88.0 251.5,76.6 251.7,75.2 251.9,94.2 252.0,77.4 252.2,85.9 252.4,79.5 252.6,77.5 252.7,71.8 252.9,71.8 253.1,85.0 253.3,73.6 253.4,84.2 253.6,85.7 253.8,96.9 254.0,84.6 254.2,93.3 254.3,92.2 254.5,81.5 254.7,66.9 254.9,84.7 255.0,69.4 255.2,69.9 255.4,78.2 255.6,81.5 255.7,69.9 255.9,70.1 256.1,68.7 256.3,76.2 256.4,80.1 256.6,65.6 256.8,73.3 257.0,60.0 257.2,64.8 257.3,61.9 257.5,77.3 257.7,72.9 257.9,66.5 258.0,65.4 258.2,64.5 258.4,68.2 258.6,67.5 258.7,71.7 258.9,78.2 259.1,75.7 259.3,63.7 259.4,57.4 259.6,59.4 259.8,71.1 260.0,66.7 260.2,63.0 260.3,66.6 260.5,58.0 260.7,56.5 260.9,66.5 261.0,64.6 261.2,62.8 261.4,66.9 261.6,62.5 261.7,60.2 261.9,60.6 262.1,67.1 262.3,65.9 262.4,57.8 262.6,60.1 262.8,66.4 263.0,74.2 263.2,61.0 263.3,64.3 263.5,61.8 263.7,66.9 263.9,66.4 264.0,71.6 264.2,68.0 264.4,60.8 264.6,58.2 264.7,62.1 264.9,83.2 265.1,70.2 265.3,70.0 265.4,58.5 265.6,61.2 265.8,52.6 266.0,49.1 266.2,59.0 266.3,61.9 266.5,53.6 266.7,66.0 266.9,54.9 267.0,49.7 267.2,58.5 267.4,58.8 267.6,56.5 267.7,56.0 267.9,57.5 268.1,55.6 268.3,54.6 268.4,44.1 268.6,43.7 268.8,54.4 269.0,50.0 269.2,56.2 269.3,62.5 269.5,54.5 269.7,55.5 269.9,64.2 270.0,61.8 270.2,63.4 270.4,63.0 270.6,61.3 270.7,54.3 270.9,47.5 271.1,43.5 271.3,51.0 271.4,53.2 271.6,50.4 271.8,55.2" fill="none" stroke="#0000a0" stroke-width="1" marker-start="url(#dm)" marker-mid="url(#dm)" marker-end="url(#dm)"/>
<polyline points="350.3,74.5 350.5,70.0 350.7,68.1 350.9,57.2 351.1,73.9 351.3,82.2 351.5,76.2 351.6,80.8 351.8,79.9 352.0,73.1 352.2,80.5 352.4,75.3 352.6,72.1 352.8,66.7 353.0,72.8 353.2,72.3 353.4,76.8 353.6,71.0 353.8,72.9 353.9,66.6 354.1,75.6 354.3,76.2 354.5,77.6 354.7,79.1 354.9,69.8 355.1,77.1 355.3,89.0 355.5,72.3 355.7,61.0 355.9,59.5 356.1,69.2 356.2,72.2 356.4,80.5 356.6,83.1 356.8,81.1 357.0,80.4 357.2,77.0 357.4,82.0 357.6,71.6 357.8,70.2 358.0,73.8 358.2,86.6 358.4,77.6 358.6,70.2 358.7,69.3 358.9,79.4 359.1,77.4 359.3,87.2 359.5,71.1 359.7,82.5 359.9,89.0 360.1,75.8 360.3,79.1 360.5,89.0 360.7,87.0 360.9,92.6 361.0,98.0 361.2,98.1 361.4,90.5 361.6,81.9 361.8,87.2 362.0,84.3 362.2,82.7 362.4,82.4 362.6,87.6 362.8,78.6 363.0,70.0 363.2,68.5 363.3,76.2 363.5,79.2 363.7,92.1 363.9,88.1 364.1,79.6 364.3,84.1 364.5,82.2 364.7,70.8 364.9,66.8 365.1,87.6 365.3,87.7 365.5,88.3 365.6,82.1 365.8,74.1 366.0,84.4 366.2,80.9 366.4,34.1 366.6,72.8 366.8,65.4 367.0,72.1 367.2,86.0 367.4,73.7 367.6,90.2 367.8,77.8 368.0,79.1 368.1,69.1 368.3,69.5 368.5,72.6 368.7,69.1 368.9,63.9 369.1,60.8 369.3,57.2 369.5,51.2 369.7,54.6 369.9,67.1 370.1,80.5 370.3,85.5 370.4,47.8 370.6,99.0 370.8,83.5 371.0,98.9 371.2,22.8 371.4,88.8 371.6,73.1 371.8,78.9 372.0,57.4 372.2,75.9 372.4,75.9 372.6,68.1 372.7,90.0 372.9,94.0 373.1,89.8 373.3,80.4 373.5,81.6 373.7,81.6 373.9,89.4 374.1,94.6 374.3,86.3 374.5,82.8 374.7,80.5 374.9,73.0 375.1,74.3 375.2,78.7 375.4,86.9 375.6,96.2 375.8,86.6 376.0,90.4 376.2,85.8 376.4,100.2 376.6,94.3 376.8,94.4 377.0,84.9 377.2,80.2 377.4,83.9 377.5,82.4 377.7,86.1 377.9,76.4 378.1,84.4 378.3,79.6 378.5,92.7 378.7,88.9 378.9,94.9 379.1,61.8 379.3,88.7 379.5,84.3 379.7,84.1 379.8,86.9 380.0,87.1 380.2,90.3 380.4,94.7 380.6,96.9 380.8,95.0 381.0,88.4 381.2,86.9 381.4,88.8 381.6,84.4 381.8,90.0 382.0,90.8 382.2,91.3 382.3,96.9 382.5,99.1 382.7,98.6 382.9,93.2 383.1,95.6 383.3,97.3 383.5,93.3 383.7,99.0 383.9,100.2 384.1,91.0 384.3,94.1 384.5,90.4 384.6,98.0 384.8,101.3 385.0,114.2 385.2,93.1 385.4,95.5 385.6,95.5 385.8,102.6 386.0,103.7 386.2,100.3 386.4,101.7 386.6,92.2 386.8,95.7 386.9,100.1 387.1,98.5 387.3,95.5 387.5,98.7 387.7,106.2 387.9,103.5 388.1,96.7 388.3,102.4 388.5,93.1 388.7,96.5 388.9,94.4 389.1,98.7 389.2,94.7 389.4,100.1 389.6,99.5 389.8,91.9 390.0,88.5 390.2,89.1 390.4,96.0 390.6,96.1 390.8,95.9 391.0,94.7 391.2,97.1 391.4,97.2 391.6,96.9 391.7,92.8 391.9,97.5 392.1,100.9 392.3,94.2 392.5,102.1 392.7,102.0 392.9,97.6 393.1,90.0 393.3,94.5 393.5,96.9 393.7,94.2 393.9,88.1 394.0,95.3 394.2,93.3 394.4,92.5 394.6,104.0 394.8,104.2 395.0,104.4 395.2,101.3 395.4,101.4 395.6,90.4 395.8,92.8 396.0,91.0 396.2,88.1 396.3,87.7 396.5,91.1 396.7,92.9 396.9,94.2 397.1,97.1 397.3,93.3 397.5,89.8 397.7,87.8 397.9,88.4 398.1,92.9 398.3,92.9 398.5,94.9 398.7,90.4 398.8,89.6 399.0,87.9 399.2,85.1 399.4,93.6 399.6,95.3 399.8,90.6 400.0,87.4 400.2,87.9 400.4,82.9 400.6,86.6 400.8,82.1 401.0,82.7 401.1,80.7 401.3,81.7 401.5,79.7 401.7,79.7 401.9,79.7 402.1,79.7 402.3,81.3 402.5,83.9 402.7,90.5 402.9,91.9 403.1,89.0 403.3,90.5 403.4,86.6 403.6,91.3 403.8,91.1 404.0,84.8 404.2,87.4 404.4,89.3 404.6,75.8 404.8,74.8 405.0,75.0 405.2,71.3 405.4,70.0 405.6,68.6 405.8,73.7 405.9,77.5 406.1,93.9 406.3,86.3 406.5,91.6 406.7,86.4 406.9,84.6 407.1,70.8 407.3,56.1 407.5,54.8 407.7,69.3 407.9,86.3 408.1,87.1 408.2,86.5 408.4,72.5 408.6,88.3 408.8,94.6 409.0,80.7 409.2,76.5 409.4,63.3 409.6,82.6 409.8,82.4 410.0,76.4 410.2,78.5 410.4,80.1 410.5,70.8 410.7,54.7 410.9,44.6 411.1,43.2 411.3,52.9 411.5,100.9 411.7,57.9 411.9,63.0 412.1,68.7 412.3,57.0 412.5,62.6 412.7,52.4 412.8,69.4 413.0,61.5 413.2,63.5 413.4,69.9 413.6,63.2 413.8,47.2 414.0,49.0 414.2,61.0 414.4,60.8 414.6,63.3 414.8,53.6 415.0,58.1 415.2,65.6 415.3,64.2 415.5,78.7 415.7,69.8 415.9,57.7 416.1,45.8 416.3,61.0 416.5,60.2 416.7,68.2 416.9,68.4 417.1,76.5 417.3,76.2 417.5,68.8 417.6,67.0 417.8,72.0 418.0,29.8 418.2,68.8 418.4,73.8 418.6,74.4 418.8,67.0 419.0,65.8 419.2,55.3 419.4,57.2 419.6,53.9 419.8,56.6 419.9,54.3 420.1,58.2 420.3,66.5 420.5,55.1 420.7,63.2 420.9,48.6 421.1,45.8 421.3,46.5 421.5,52.1 421.7,58.6 421.9,48.2 422.1,52.9 422.3,57.1 422.4,67.5 422.6,64.4 422.8,67.1 423.0,58.2 423.2,58.4 423.4,56.8 423.6,63.8 423.8,55.7 424.0,51.8 424.2,60.0 424.4,74.7 424.6,72.6 424.7,70.8 424.9,64.3 425.1,72.3 425.3,72.7 425.5,79.8 425.7,77.7 425.9,62.7 426.1,56.8 426.3,49.2 426.5,41.9 426.7,61.5 426.9,69.4 427.0,54.3 427.2,75.1 427.4,72.6 427.6,59.1 427.8,64.6 428.0,63.4 428.2,55.5 428.4,41.4 428.6,49.1 428.8,58.3 429.0,41.7 429.2,51.8 429.3,64.0 429.5,59.5 429.7,63.3 429.9,61.4 430.1,54.0 430.3,55.1 430.5,75.2 430.7,55.6 430.9,63.2 431.1,67.2 431.3,59.5 431.5,58.0 431.7,46.0 431.8,45.2 432.0,55.1 432.2,64.8 432.4,56.2 432.6,95.1 432.8,80.4 433.0,78.2 433.2,73.0 433.4,68.2 433.6,85.2 433.8,75.3 434.0,89.6 434.1,96.0 434.3,76.8 434.5,87.4 434.7,76.6 434.9,97.9 435.1,89.6 435.3,75.7 435.5,58.3 435.7,58.0 435.9,58.9 436.1,59.2 436.3,59.8 436.4,60.5 436.6,67.1 436.8,86.0 437.0,71.8 437.2,73.5 437.4,72.4 437.6,72.2 437.8,74.2 438.0,76.2 438.2,84.3 438.4,86.3 438.6,86.3 438.8,90.4 438.9,91.7 439.1,90.6 439.3,92.4 439.5,88.9 439.7,92.4 439.9,94.0 440.1,91.8 440.3,87.7 440.5,95.1 440.7,94.6 440.9,100.2 441.1,97.8 441.2,98.9 441.4,95.3 441.6,95.5 441.8,97.6 442.0,93.5 442.2,93.4 442.4,94.3 442.6,94.7 442.8,96.5 443.0,99.1 443.2,100.0 443.4,98.8 443.5,96.2 443.7,92.4 443.9,91.4 444.1,91.5 444.3,95.2 444.5,94.4 444.7,91.4 444.9,95.1 445.1,93.1 445.3,91.6 445.5,92.3 445.7,95.1 445.9,87.9 446.0,87.4 446.2,89.8 446.4,90.3 446.6,88.4 446.8,88.4 447.0,97.2 447.2,94.1 447.4,97.7 447.6,100.5 447.8,95.8 448.0,97.6 448.2,93.9 448.3,90.7 448.5,86.0 448.7,93.9 448.9,91.8 449.1,89.6 449.3,85.0 449.5,98.6 449.7,100.8 449.9,97.2 450.1,91.8 450.3,83.6 450.5,81.4 450.6,92.9 450.8,85.8 451.0,95.7 451.2,99.4 451.4,92.7 451.6,91.0 451.8,90.8 452.0,93.7 452.2,94.0 452.4,87.6 452.6,97.8 452.8,98.7 452.9,103.2 453.1,105.4 453.3,101.5 453.5,101.2 453.7,102.5 453.9,103.4 454.1,100.8 454.3,97.9 454.5,98.3 454.7,95.9 454.9,95.2 455.1,92.0 455.3,93.9 455.4,92.7 455.6,93.4 455.8,95.4 456.0,97.6 456.2,103.6 456.4,102.2 456.6,96.7 456.8,97.9 457.0,96.5 457.2,98.5 457.4,96.7 457.6,95.5 457.7,95.4 457.9,95.1 458.1,93.0 458.3,93.1 458.5,95.2 458.7,99.8 458.9,98.7 459.1,97.8 459.3,99.7 459.5,100.8 459.7,104.1 459.9,103.5 460.0,101.6 460.2,103.9 460.4,104.2 460.6,101.8 460.8,101.0 461.0,96.2 461.2,96.2 461.4,94.9 461.6,95.6 461.8,95.3 462.0,95.8 462.2,96.2 462.4,97.8 462.5,98.0 462.7,96.1 462.9,93.0 463.1,97.4 463.3,100.5 463.5,97.5 463.7,98.2 463.9,93.2 464.1,90.1 464.3,91.2 464.5,96.5 464.7,93.0 464.8,91.3 465.0,96.7 465.2,90.0 465.4,92.8 465.6,94.1 465.8,92.5 466.0,92.6 466.2,99.1 466.4,92.9 466.6,90.4 466.8,88.9 467.0,85.8 467.1,80.6 467.3,90.6 467.5,90.3 467.7,80.2 467.9,78.8 468.1,83.5 468.3,86.3 468.5,77.5 468.7,79.5 468.9,82.6 469.1,85.0 469.3,86.3 469.5,71.7 469.6,88.1 469.8,86.4 470.0,96.6 470.2,96.6 470.4,96.6 470.6,78.9 470.8,85.7 471.0,79.6 471.2,73.4 471.4,63.9 471.6,85.6 471.8,77.2 471.9,62.2 472.1,62.9 472.3,56.0 472.5,42.7 472.7,65.1 472.9,58.2 473.1,71.6 473.3,66.4 473.5,77.9 473.7,90.7 473.9,80.9 474.1,71.9 474.2,75.7 474.4,85.6 474.6,81.8 474.8,106.2 475.0,78.8 475.2,81.2 475.4,86.2 475.6,74.4 475.8,69.9 476.0,73.0 476.2,67.1 476.4,72.5 476.5,80.0 476.7,78.5 476.9,71.3 477.1,65.2 477.3,88.8 477.5,93.5 477.7,74.7 477.9,66.3 478.1,90.1 478.3,98.4 478.5,91.6 478.7,97.2 478.9,72.8 479.0,73.6 479.2,81.7 479.4,59.5 479.6,57.4 479.8,72.0 480.0,84.2 480.2,73.9 480.4,76.7 480.6,91.5 480.8,80.3 481.0,64.0 481.2,67.0 481.3,65.4 481.5,81.3 481.7,79.3 481.9,68.6 482.1,93.4 482.3,80.1 482.5,40.1 482.7,84.2 482.9,86.9 483.1,82.4 483.3,83.7 483.5,91.7 483.6,61.4 483.8,63.1 484.0,64.3 484.2,65.1 484.4,68.6 484.6,63.4 484.8,78.6 485.0,89.7 485.2,61.4 485.4,64.9 485.6,60.4 485.8,50.7 486.0,55.9 486.1,55.8 486.3,57.9 486.5,56.7 486.7,71.0 486.9,80.7 487.1,78.2 487.3,80.1 487.5,74.4 487.7,73.1 487.9,64.9 488.1,66.5 488.3,61.2 488.4,66.9 488.6,74.1 488.8,74.1 489.0,81.1 489.2,84.8 489.4,68.3 489.6,68.0 489.8,63.1 490.0,61.0 490.2,52.5 490.4,58.7 490.6,59.9 490.7,57.6 490.9,59.2 491.1,57.5 491.3,49.9 491.5,60.5 491.7,60.2 491.9,54.9 492.1,61.4 492.3,57.7 492.5,48.7 492.7,58.8 492.9,48.2 493.1,52.7 493.2,58.0 493.4,70.5 493.6,76.6 493.8,72.4 494.0,62.7 494.2,59.7 494.4,69.6 494.6,80.0 494.8,78.7 495.0,67.6 495.2,74.5 495.4,67.2 495.5,62.6 495.7,60.8 495.9,67.2 496.1,68.4 496.3,75.5 496.5,82.6 496.7,80.1 496.9,53.1 497.1,45.5 497.3,52.8 497.5,57.1 497.7,81.1 497.8,74.8 498.0,69.9 498.2,77.8 498.4,84.0 498.6,74.8 498.8,76.5 499.0,42.7 499.2,53.4 499.4,72.0 499.6,55.4 499.8,70.1 500.0,76.3 500.1,80.9 500.3,85.1 500.5,84.1 500.7,57.4 500.9,52.9 501.1,54.3 501.3,69.3 501.5,59.7 501.7,58.0 501.9,60.3 502.1,76.3 502.3,62.8 502.5,56.1 502.6,68.6 502.8,57.4 503.0,65.7 503.2,66.6 503.4,60.5 503.6,65.2 503.8,66.6 504.0,75.7 504.2,82.7 504.4,92.6 504.6,92.0 504.8,93.1 504.9,92.6 505.1,93.7 505.3,97.2 505.5,90.7 505.7,94.5 505.9,93.4 506.1,94.6 506.3,96.1 506.5,98.7 506.7,98.6 506.9,96.7 507.1,97.8 507.2,97.7 507.4,97.1 507.6,98.0 507.8,100.6 508.0,100.1 508.2,99.5 508.4,94.7 508.6,95.2 508.8,90.6 509.0,94.9 509.2,92.5 509.4,98.0 509.6,103.0 509.7,101.1 509.9,102.7 510.1,101.5 510.3,97.0 510.5,93.3 510.7,94.5 510.9,99.4 511.1,96.9 511.3,78.3 511.5,66.7 511.7,69.8 511.9,88.5 512.0,88.6 512.2,89.0 512.4,98.4 512.6,89.4 512.8,85.2 513.0,81.7 513.2,63.2 513.4,75.1 513.6,81.7 513.8,91.3 514.0,75.0 514.2,69.1 514.3,83.3 514.5,85.5 514.7,97.4 514.9,82.0 515.1,83.5 515.3,75.6 515.5,80.7 515.7,75.8 515.9,83.0 516.1,92.7 516.3,94.5 516.5,71.0 516.7,84.1 516.8,87.1 517.0,74.1 517.2,67.9 517.4,73.0 517.6,81.7 517.8,76.7 518.0,62.1 518.2,72.3 518.4,77.3 518.6,101.5 518.8,81.1 519.0,101.5 519.1,101.5 519.3,101.5 519.5,101.5 519.7,99.5 519.9,101.5 520.1,87.1 520.3,88.4 520.5,83.4 520.7,81.2 520.9,89.1 521.1,92.4 521.3,95.7 521.4,99.6 521.6,98.2 521.8,97.9 522.0,98.2 522.2,93.5 522.4,95.9 522.6,96.6 522.8,97.0 523.0,94.5 523.2,92.3 523.4,93.1 523.6,96.0 523.7,100.6 523.9,102.8 524.1,104.2 524.3,103.5 524.5,104.3 524.7,101.8 524.9,102.3 525.1,103.4 525.3,104.5 525.5,104.6 525.7,99.6 525.9,103.1 526.1,99.5 526.2,99.3 526.4,98.5 526.6,96.5 526.8,101.3 527.0,102.2 527.2,99.4 527.4,99.5 527.6,98.1 527.8,100.1 528.0,98.6 528.2,96.4 528.4,95.4 528.5,95.4 528.7,97.4 528.9,95.0 529.1,96.0 529.3,98.2 529.5,104.7 529.7,104.6 529.9,92.8 530.1,93.1 530.3,93.6 530.5,96.2 530.7,101.8 530.8,102.5 531.0,92.7 531.2,95.5 531.4,96.4 531.6,98.0 531.8,102.1 532.0,95.6 532.2,99.6 532.4,91.2 532.6,92.5 532.8,94.5 533.0,103.3 533.2,96.6 533.3,86.9 533.5,92.1 533.7,88.5 533.9,97.5 534.1,91.0 534.3,85.8 534.5,94.2 534.7,92.7 534.9,97.1 535.1,84.8 535.3,95.9 535.5,88.4 535.6,92.7 535.8,82.8 536.0,72.4 536.2,74.8 536.4,79.1 536.6,91.9 536.8,90.4 537.0,92.2 537.2,92.9 537.4,97.7 537.6,93.3 537.8,97.3 537.9,89.7 538.1,87.9 538.3,80.5 538.5,89.2 538.7,75.7 538.9,67.1 539.1,70.4 539.3,65.1 539.5,76.0 539.7,84.1 539.9,76.2 540.1,83.2 540.2,76.2 540.4,76.8 540.6,77.4 540.8,92.2 541.0,86.6 541.2,76.1 541.4,69.7 541.6,82.2 541.8,67.4 542.0,67.7 542.2,68.6 542.4,60.8 542.6,60.5 542.7,74.0 542.9,77.0 543.1,69.5 543.3,78.1 543.5,81.9 543.7,94.8 543.9,82.6 544.1,76.7 544.3,76.9 544.5,75.4 544.7,76.4 544.9,75.2 545.0,69.1 545.2,57.0 545.4,59.2 545.6,56.0 545.8,55.8 546.0,56.1 546.2,68.0 546.4,78.3 546.6,67.1 546.8,72.5 547.0,80.3 547.2,77.1 547.3,60.4 547.5,54.1 547.7,63.7 547.9,75.5 548.1,76.7 548.3,99.0 548.5,81.1 548.7,88.4 548.9,81.1 549.1,75.0 549.3,55.5 549.5,68.3 549.7,54.5 549.8,66.9 550.0,74.6 550.2,73.4 550.4,85.9 550.6,76.3 550.8,78.5 551.0,81.6 551.2,78.5 551.4,70.6 551.6,80.4 551.8,79.0 552.0,72.6 552.1,69.0 552.3,69.3 552.5,86.0 552.7,80.3 552.9,72.6 553.1,60.7 553.3,52.1 553.5,48.0 553.7,52.6 553.9,57.7 554.1,51.5 554.3,98.3 554.4,48.9 554.6,50.2 554.8,45.9 555.0,54.0 555.2,58.7 555.4,59.7 555.6,67.2 555.8,59.4 556.0,71.9 556.2,58.8 556.4,64.0 556.6,68.1 556.8,62.6 556.9,41.4 557.1,52.0 557.3,43.5 557.5,48.5 557.7,47.5 557.9,57.2 558.1,58.5 558.3,63.7 558.5,64.8 558.7,64.6 558.9,63.8 559.1,59.9 559.2,57.0 559.4,74.0 559.6,55.8 559.8,56.8 560.0,66.5 560.2,67.9 560.4,76.5 560.6,75.1 560.8,60.5 561.0,58.9 561.2,49.7 561.4,62.8 561.5,74.2 561.7,66.6 561.9,69.7 562.1,64.2 562.3,52.8 562.5,53.8 562.7,47.8 562.9,48.1 563.1,56.6 563.3,66.5 563.5,77.8 563.7,70.3 563.8,70.9 564.0,73.2 564.2,76.1 564.4,47.5 564.6,47.5 564.8,62.6 565.0,53.4 565.2,61.9 565.4,73.3 565.6,51.4 565.8,56.4 566.0,64.2 566.2,66.6 566.3,50.6 566.5,62.5 566.7,59.2 566.9,73.8 567.1,78.1 567.3,68.9 567.5,72.4 567.7,64.0 567.9,59.0 568.1,48.2 568.3,53.6 568.5,73.1 568.6,76.1 568.8,76.1 569.0,67.8 569.2,64.2 569.4,79.1 569.6,58.3 569.8,93.1 570.0,85.7 570.2,107.5 570.4,107.5 570.6,93.0 570.8,96.2 570.9,92.0 571.1,92.2 571.3,96.5 571.5,82.1 571.7,72.6 571.9,69.6 572.1,56.0 572.3,61.8 572.5,71.4 572.7,77.4 572.9,111.5 573.1,74.6 573.3,85.1 573.4,58.4 573.6,61.7 573.8,64.4 574.0,79.2 574.2,85.1 574.4,89.8 574.6,84.3 574.8,90.2 575.0,74.5 575.2,75.6 575.4,59.3 575.6,79.2 575.7,91.3 575.9,79.3 576.1,70.2 576.3,60.5 576.5,60.7 576.7,61.5 576.9,65.3 577.1,61.0 577.3,61.0 577.5,61.1 577.7,69.0 577.9,75.1 578.0,72.5 578.2,73.2 578.4,72.7 578.6,60.5 578.8,65.0 579.0,67.2 579.2,74.2 579.4,60.5 579.6,70.2 579.8,66.2 580.0,70.1 580.2,79.4 580.4,65.5 580.5,58.3 580.7,71.0 580.9,62.3 581.1,58.2 581.3,68.5 581.5,68.1 581.7,76.3 581.9,77.3 582.1,75.1 582.3,82.9 582.5,95.1 582.7,87.8 582.8,96.2 583.0,96.9 583.2,90.0 583.4,88.6 583.6,74.6 583.8,69.4 584.0,75.1 584.2,75.7 584.4,89.4 584.6,72.4 584.8,72.2 585.0,68.9 585.1,71.7 585.3,86.4 585.5,72.1 585.7,83.5 585.9,76.6 586.1,75.1 586.3,86.8 586.5,112.2 586.7,87.6 586.9,86.1 587.1,82.7 587.3,79.1 587.4,65.8 587.6,66.1 587.8,73.7 588.0,79.0 588.2,68.2 588.4,82.8 588.6,87.9 588.8,76.2 589.0,71.8 589.2,81.1 589.4,71.9 589.6,72.7 589.8,77.3 589.9,80.4 590.1,82.8 590.3,87.1 590.5,82.6 590.7,81.5 590.9,96.1 591.1,84.1 591.3,82.6 591.5,85.1 591.7,82.1 591.9,91.3 592.1,90.0 592.2,93.2 592.4,76.3 592.6,87.0 592.8,93.6 593.0,86.6 593.2,94.2 593.4,92.8 593.6,95.7 593.8,100.4 594.0,96.8 594.2,87.0 594.4,86.9 594.5,79.7 594.7,78.0 594.9,77.3 595.1,77.1 595.3,87.4 595.5,91.7 595.7,84.8" fill="none" stroke="#000" stroke-width="1.2" marker-start="url(#sm)" marker-mid="url(#sm)" marker-end="url(#sm)"/>
<polyline points="48.2,285.4 48.4,295.8 48.5,253.4 48.7,287.2 48.9,277.9 49.1,306.4 49.2,269.1 49.4,276.4 49.6,305.6 49.8,291.2 49.9,268.3 50.1,303.2 50.3,307.4 50.5,288.4 50.6,292.7 50.8,303.4 51.0,270.0 51.2,297.2 51.3,304.8 51.5,291.6 51.7,300.1 51.9,288.7 52.0,283.9 52.2,259.8 52.4,309.4 52.6,301.7 52.7,297.0 52.9,275.3 53.1,302.2 53.3,266.9 53.4,293.5 53.6,288.7 53.8,310.6 54.0,278.6 54.1,285.4 54.3,304.8 54.5,284.5 54.7,285.0 54.8,291.9 55.0,247.8 55.2,303.3 55.4,293.1 55.5,273.6 55.7,295.5 55.9,292.2 56.1,295.8 56.2,303.8 56.4,298.5 56.6,293.5 56.8,288.6 56.9,264.7 57.1,307.0 57.3,288.8 57.5,301.0 57.6,287.6 57.8,285.7 58.0,302.4 58.2,270.2 58.3,281.5 58.5,263.8 58.7,309.4 58.9,266.9 59.0,277.8 59.2,314.2 59.4,295.9 59.6,305.6 59.7,270.1 59.9,248.8 60.1,284.4 60.3,276.9 60.4,303.8 60.6,283.8 60.8,303.5 61.0,281.1 61.1,278.8 61.3,284.7 61.5,269.4 61.7,291.2 61.8,295.2 62.0,309.4 62.2,295.1 62.4,293.8 62.5,279.7 62.7,272.2 62.9,267.8 63.1,260.1 63.2,284.8 63.4,304.1 63.6,292.6 63.8,254.5 63.9,266.9 64.1,273.7 64.3,308.5 64.5,293.9 64.6,291.2 64.8,270.7 65.0,242.8 65.2,317.6 65.3,310.9 65.5,277.5 65.7,282.4 65.9,310.6 66.0,268.4 66.2,288.2 66.4,274.1 66.6,279.4 66.7,297.0 66.9,297.3 67.1,288.8 67.3,303.9 67.4,259.0 67.6,303.1 67.8,303.7 68.0,275.4 68.1,285.9 68.3,309.4 68.5,289.9 68.7,290.6 68.8,270.4 69.0,278.0 69.2,280.9 69.4,272.0 69.5,310.3 69.7,289.4 69.9,274.9 70.1,279.6 70.2,302.2 70.4,277.9 70.6,296.4 70.8,279.9 70.9,281.6 71.1,296.5 71.3,305.7 71.5,270.0 71.6,290.3 71.8,296.9 72.0,310.2 72.2,295.7 72.3,304.1 72.5,305.6 72.7,257.0 72.9,285.2 73.0,261.2 73.2,274.7 73.4,305.9 73.6,280.6 73.7,297.4 73.9,284.2 74.1,298.2 74.3,293.5 74.4,304.2 74.6,301.3 74.8,273.4 75.0,266.3 75.1,267.5 75.3,277.4 75.5,279.2 75.7,293.7 75.8,298.1 76.0,278.1 76.2,294.4 76.4,284.7 76.5,276.4 76.7,302.1 76.9,282.0 77.1,287.4 77.2,284.7 77.4,270.0 77.6,305.0 77.8,298.7 77.9,306.4 78.1,273.2 78.3,298.3 78.5,291.8 78.6,302.1 78.8,305.4 79.0,288.2 79.2,285.9 79.3,311.1 79.5,270.2 79.7,285.9 79.9,278.9 80.0,269.6 80.2,278.6 80.4,299.7 80.6,301.0 80.7,303.2 80.9,282.6 81.1,293.8 81.3,300.6 81.4,281.1 81.6,299.6 81.8,296.8 82.0,249.8 82.1,280.4 82.3,306.2 82.5,307.0 82.7,309.1 82.8,293.8 83.0,306.1 83.2,301.9 83.4,289.5 83.5,266.3 83.7,256.6 83.9,269.2 84.1,285.8 84.2,277.2 84.4,279.4 84.6,264.7 84.8,300.6 84.9,249.8 85.1,282.1 85.3,304.6 85.5,291.5 85.6,290.4 85.8,305.9 86.0,297.7 86.2,277.9 86.3,270.5 86.5,291.8 86.7,286.0 86.9,303.1 87.0,260.2 87.2,301.3 87.4,288.4 87.6,303.0 87.7,303.2 87.9,276.1 88.1,282.8 88.3,283.0 88.4,297.9 88.6,277.0 88.8,278.4 89.0,285.7 89.1,275.6 89.3,296.0 89.5,301.1 89.7,289.2 89.8,294.9 90.0,291.6 90.2,297.2 90.4,303.2 90.5,268.6 90.7,284.3 90.9,277.0 91.1,255.4 91.2,298.0 91.4,288.3 91.6,304.8 91.8,284.6 91.9,300.0 92.1,265.4 92.3,271.3 92.5,310.8 92.6,300.4 92.8,305.7 93.0,253.8 93.2,311.0 93.3,266.0 93.5,268.8 93.7,294.4 93.9,281.9 94.0,258.8 94.2,267.9 94.4,253.9 94.6,299.0 94.7,294.4 94.9,295.3 95.1,283.1 95.3,293.7 95.4,258.2 95.6,288.5 95.8,298.6 96.0,273.0 96.1,278.6 96.3,271.3 96.5,270.2 96.7,302.6 96.8,299.0 97.0,253.8 97.2,301.9 97.4,298.9 97.5,275.6 97.7,311.4 97.9,299.9 98.1,302.4 98.2,288.7 98.4,275.9 98.6,282.2 98.8,286.2 98.9,306.2 99.1,278.5 99.3,304.8 99.5,254.6 99.6,265.4 99.8,270.4 100.0,297.1 100.2,283.5 100.3,285.7 100.5,304.4 100.7,296.8 100.9,297.2 101.0,307.1 101.2,307.2 101.4,270.6 101.6,284.0 101.7,278.1 101.9,299.2 102.1,278.2 102.3,286.9 102.4,265.2 102.6,301.1 102.8,292.6 103.0,293.6 103.1,267.4 103.3,306.2 103.5,291.6 103.7,284.3 103.8,268.6 104.0,271.5 104.2,286.9 104.4,295.7 104.5,300.0 104.7,269.2 104.9,279.6 105.1,309.7 105.2,275.6 105.4,274.0 105.6,272.9 105.8,289.1 105.9,292.1 106.1,308.7 106.3,293.9 106.5,271.1 106.6,274.1 106.8,268.0 107.0,301.5 107.2,287.6 107.3,275.2 107.5,310.1 107.7,271.6 107.9,279.6 108.0,289.5 108.2,278.1 108.4,298.8 108.6,304.9 108.7,305.0 108.9,293.8 109.1,288.9 109.3,288.0 109.4,300.3 109.6,259.4 109.8,311.3 110.0,257.8 110.1,302.2 110.3,299.5 110.5,286.7 110.7,278.4 110.8,300.9 111.0,304.0 111.2,285.8 111.4,268.4 111.5,261.4 111.7,285.9 111.9,299.0 112.1,310.0 112.2,299.3 112.4,311.4 112.6,277.0 112.8,309.6 112.9,288.9 113.1,283.0 113.3,290.3 113.5,278.1 113.6,289.1 113.8,307.6 114.0,287.5 114.2,287.3 114.3,301.4 114.5,271.2 114.7,284.1 114.9,300.0 115.0,298.1 115.2,257.7 115.4,268.7 115.6,273.4 115.7,309.5 115.9,291.2 116.1,272.9 116.3,256.8 116.4,277.5 116.6,269.0 116.8,303.4 117.0,306.7 117.1,275.6 117.3,268.3 117.5,293.3 117.7,289.5 117.8,307.0 118.0,310.9 118.2,296.6 118.4,302.7 118.5,296.1 118.7,307.3 118.9,265.3 119.1,244.8 119.2,304.8 119.4,306.6 119.6,273.2 119.8,295.9 119.9,306.0 120.1,290.0 120.3,292.2 120.5,306.0 120.6,284.6 120.8,262.3 121.0,311.4 121.2,278.9 121.3,267.2 121.5,309.1 121.7,310.8 121.9,275.5 122.0,255.8 122.2,296.2 122.4,287.4 122.6,303.5 122.7,296.0 122.9,295.1 123.1,289.2 123.3,303.6 123.4,277.3 123.6,306.3 123.8,269.5 124.0,303.9 124.1,299.0 124.3,289.5 124.5,297.1 124.7,266.8 124.8,271.1 125.0,294.9 125.2,291.5 125.4,304.0 125.5,308.0 125.7,298.2 125.9,301.7 126.1,289.0 126.2,285.3 126.4,279.6 126.6,289.2 126.8,265.4 126.9,295.5 127.1,306.3 127.3,301.1 127.5,295.0 127.6,307.4 127.8,258.2 128.0,289.7 128.2,283.8 128.3,300.7 128.5,304.9 128.7,301.6 128.9,293.5 129.0,277.1 129.2,299.6 129.4,268.5 129.6,306.4 129.7,288.6 129.9,273.8 130.1,281.4 130.3,279.2 130.4,298.2 130.6,301.5 130.8,307.2 131.0,251.8 131.1,272.3 131.3,253.8 131.5,281.8 131.7,281.6 131.8,296.6 132.0,293.0 132.2,263.7 132.4,276.0 132.5,273.7 132.7,275.2 132.9,280.7 133.1,277.6 133.2,264.8 133.4,281.7 133.6,297.3 133.8,310.4 133.9,301.8 134.1,274.8 134.3,288.4 134.5,292.8 134.6,280.9 134.8,283.0 135.0,281.4 135.2,275.0 135.3,276.2 135.5,309.5 135.7,309.3 135.9,271.5 136.0,269.3 136.2,295.8 136.4,300.5 136.6,286.4 136.7,281.3 136.9,283.8 137.1,280.6 137.3,271.1 137.4,286.6 137.6,272.3 137.8,298.2 138.0,298.7 138.1,293.1 138.3,270.7 138.5,307.4 138.7,297.1 138.8,281.9 139.0,296.9 139.2,296.1 139.4,273.7 139.5,308.5 139.7,308.5 139.9,282.2 140.1,253.8 140.2,308.8 140.4,272.4 140.6,281.5 140.8,278.7 140.9,285.8 141.1,308.4 141.3,304.1 141.5,283.1 141.6,310.7 141.8,262.2 142.0,295.3 142.2,258.8 142.3,307.3 142.5,277.3 142.7,281.3 142.9,266.4 143.0,280.1 143.2,281.7 143.4,281.4 143.6,285.1 143.7,297.3 143.9,310.7 144.1,275.6 144.3,273.0 144.4,297.2 144.6,275.1 144.8,285.9 145.0,265.7 145.1,288.7 145.3,268.6 145.5,286.9 145.7,270.0 145.8,300.9 146.0,290.5 146.2,290.6 146.4,283.3 146.5,283.3 146.7,285.9 146.9,254.8 147.1,307.2 147.2,302.0 147.4,298.3 147.6,272.3 147.8,270.3 147.9,301.3 148.1,259.6 148.3,304.1 148.5,289.3 148.6,283.3 148.8,296.0 149.0,287.7 149.2,291.9 149.3,287.1 149.5,287.5 149.7,286.3 149.9,307.0 150.0,303.0 150.2,284.4 150.4,276.8 150.6,283.6 150.7,288.2 150.9,296.9 151.1,300.0 151.3,301.0 151.4,286.8 151.6,274.5 151.8,289.0 152.0,289.3 152.1,291.4 152.3,296.9 152.5,266.1 152.7,293.5 152.8,286.9 153.0,309.1 153.2,294.1 153.4,300.0 153.5,279.1 153.7,292.4 153.9,292.8 154.1,287.8 154.2,277.5 154.4,305.7 154.6,293.1 154.8,270.2 154.9,296.9 155.1,296.9 155.3,277.0 155.5,268.9 155.6,304.2 155.8,270.6 156.0,257.8 156.2,300.3 156.3,299.3 156.5,293.6 156.7,281.6 156.9,303.9 157.0,277.5 157.2,288.2 157.4,273.3 157.6,286.5 157.7,281.9 157.9,297.7 158.1,274.4 158.3,278.1 158.4,309.5 158.6,305.9 158.8,304.7 159.0,289.1 159.1,281.0 159.3,304.0 159.5,283.5 159.7,241.8 159.8,302.8 160.0,290.3 160.2,274.5 160.3,241.8 160.5,310.2 160.7,277.2 160.9,285.6 161.0,269.8 161.2,270.6 161.4,265.5 161.6,307.2 161.7,273.1 161.9,273.7 162.1,287.4 162.3,282.7 162.4,298.3 162.6,300.4 162.8,295.9 163.0,300.3 163.1,281.8 163.3,287.2 163.5,280.9 163.7,305.7 163.8,298.7 164.0,265.6 164.2,270.8 164.4,304.6 164.5,292.1 164.7,276.2 164.9,298.9 165.1,273.3 165.2,287.4 165.4,304.7 165.6,295.5 165.8,279.4 165.9,276.7 166.1,292.6 166.3,267.8 166.5,269.7 166.6,269.2 166.8,282.8 167.0,302.5 167.2,277.9 167.3,304.0 167.5,283.7 167.7,264.1 167.9,286.4 168.0,316.2 168.2,284.8 168.4,271.3 168.6,303.1 168.7,299.9 168.9,282.9 169.1,285.4 169.3,280.7 169.4,300.2 169.6,298.7 169.8,275.1 170.0,283.4 170.1,304.0 170.3,280.8 170.5,275.7 170.7,294.2 170.8,272.1 171.0,269.2 171.2,272.6 171.4,285.7 171.5,274.7 171.7,307.7 171.9,280.6 172.1,289.7 172.2,282.3 172.4,235.8 172.6,274.2 172.8,298.5 172.9,316.2 173.1,274.2 173.3,306.8 173.5,298.5 173.6,296.6 173.8,291.1 174.0,301.2 174.2,287.6 174.3,310.0 174.5,305.1 174.7,282.5 174.9,278.5 175.0,304.5 175.2,264.3 175.4,269.8 175.6,292.5 175.7,280.6 175.9,248.8 176.1,277.0 176.3,305.1 176.4,279.6 176.6,268.6 176.8,293.2 177.0,285.5 177.1,274.2 177.3,300.7 177.5,285.8 177.7,258.4 177.8,274.0 178.0,287.5 178.2,294.8 178.4,285.8 178.5,273.1 178.7,283.9 178.9,284.0 179.1,221.8 179.2,259.1 179.4,300.0 179.6,278.5 179.8,294.5 179.9,291.5 180.1,270.5 180.3,276.0 180.5,279.2 180.6,269.9 180.8,299.5 181.0,287.9 181.2,274.8 181.3,278.7 181.5,295.1 181.7,279.8 181.9,283.2 182.0,278.8 182.2,284.3 182.4,270.7 182.6,292.6 182.7,253.8 182.9,296.5 183.1,278.6 183.3,300.6 183.4,296.9 183.6,293.2 183.8,309.2 184.0,251.8 184.1,302.9 184.3,305.1 184.5,298.1 184.7,294.2 184.8,290.7 185.0,286.3 185.2,286.0 185.4,298.8 185.5,305.1 185.7,269.1 185.9,310.6 186.1,267.6 186.2,272.8 186.4,298.1 186.6,270.4 186.8,284.8 186.9,269.4 187.1,264.6 187.3,289.2 187.5,285.8 187.6,303.1 187.8,279.5 188.0,302.5 188.2,270.3 188.3,282.7 188.5,300.0 188.7,294.5 188.9,285.6 189.0,295.3 189.2,291.1 189.4,278.2 189.6,272.8 189.7,298.3 189.9,291.1 190.1,270.8 190.3,305.6 190.4,305.3 190.6,305.5 190.8,296.8 191.0,271.0 191.1,287.4 191.3,271.4 191.5,296.6 191.7,277.6 191.8,299.9 192.0,276.5 192.2,292.8 192.4,305.1 192.5,301.2 192.7,287.8 192.9,310.7 193.1,278.9 193.2,288.9 193.4,306.3 193.6,297.1 193.8,273.7 193.9,257.8 194.1,311.3 194.3,256.8 194.5,298.1 194.6,287.7 194.8,296.6 195.0,303.2 195.2,298.8 195.3,289.8 195.5,270.8 195.7,278.3 195.9,310.9 196.0,301.9 196.2,276.7 196.4,304.4 196.6,272.6 196.7,297.4 196.9,284.9 197.1,270.9 197.3,296.8 197.4,276.1 197.6,278.6 197.8,276.1 198.0,306.6 198.1,295.6 198.3,284.9 198.5,305.1 198.7,289.8 198.8,281.3 199.0,255.5 199.2,283.0 199.4,295.4 199.5,271.2 199.7,282.1 199.9,290.5 200.1,285.3 200.2,301.3 200.4,287.4 200.6,287.2 200.8,306.8 200.9,299.8 201.1,266.8 201.3,271.4 201.5,276.3 201.6,279.1 201.8,275.5 202.0,242.4 202.2,306.0 202.3,275.2 202.5,305.6 202.7,289.0 202.9,282.6 203.0,252.8 203.2,305.6 203.4,290.2 203.6,298.0 203.7,305.8 203.9,298.9 204.1,277.1 204.3,284.5 204.4,297.1 204.6,275.3 204.8,266.7 205.0,282.8 205.1,304.3 205.3,293.7 205.5,301.0 205.7,272.8 205.8,293.9 206.0,286.6 206.2,289.6 206.4,298.3 206.5,307.0 206.7,294.6 206.9,271.5 207.1,299.9 207.2,276.3 207.4,311.1 207.6,279.7 207.8,303.3 207.9,280.9 208.1,289.2 208.3,287.9 208.5,275.7 208.6,283.9 208.8,284.8 209.0,273.6 209.2,301.7 209.3,276.3 209.5,285.9 209.7,311.0 209.9,294.1 210.0,260.2 210.2,264.7 210.4,268.9 210.6,308.5 210.7,254.1 210.9,293.2 211.1,269.3 211.3,254.9 211.4,286.2 211.6,286.2 211.8,282.7 212.0,248.8 212.1,299.5 212.3,274.2 212.5,280.4 212.7,287.1 212.8,289.2 213.0,267.3 213.2,283.3 213.4,294.0 213.5,268.5 213.7,306.9 213.9,289.6 214.1,271.2 214.2,303.2 214.4,276.5 214.6,304.8 214.8,283.4 214.9,306.3 215.1,294.0 215.3,293.7 215.5,309.9 215.6,308.4 215.8,277.7 216.0,282.6 216.2,298.7 216.3,299.1 216.5,285.6 216.7,304.7 216.9,281.8 217.0,295.4 217.2,308.8 217.4,282.4 217.6,279.1 217.7,308.8 217.9,303.9 218.1,285.2 218.3,288.9 218.4,290.1 218.6,280.9 218.8,291.4 219.0,289.4 219.1,297.0 219.3,309.5 219.5,284.6 219.7,298.5 219.8,284.3 220.0,289.9 220.2,305.4 220.4,284.0 220.5,287.1 220.7,285.1 220.9,274.3 221.1,252.8 221.2,289.6 221.4,287.3 221.6,305.3 221.8,268.6 221.9,270.2 222.1,276.4 222.3,306.5 222.5,272.7 222.6,304.1 222.8,297.1 223.0,287.0 223.2,263.4 223.3,268.3 223.5,289.2 223.7,282.5 223.9,285.1 224.0,285.1 224.2,292.3 224.4,274.3 224.6,281.7 224.7,276.8 224.9,309.4 225.1,264.5 225.3,294.6 225.4,268.1 225.6,270.6 225.8,283.2 226.0,284.3 226.1,274.2 226.3,291.7 226.5,279.7 226.7,270.4 226.8,288.0 227.0,291.7 227.2,266.7 227.4,264.9 227.5,277.7 227.7,284.8 227.9,274.4 228.1,292.3 228.2,256.8 228.4,289.9 228.6,273.8 228.8,309.6 228.9,261.8 229.1,267.5 229.3,254.0 229.5,305.7 229.6,303.5 229.8,301.8 230.0,307.4 230.2,285.8 230.3,294.4 230.5,279.1 230.7,278.6 230.9,307.7 231.0,295.5 231.2,281.8 231.4,289.4 231.6,267.4 231.7,285.7 231.9,297.3 232.1,278.8 232.3,277.2 232.4,284.9 232.6,292.8 232.8,272.5 233.0,303.1 233.1,268.4 233.3,280.4 233.5,275.4 233.7,289.4 233.8,280.1 234.0,289.4 234.2,287.9 234.4,275.3 234.5,304.4 234.7,286.3 234.9,271.5 235.1,288.2 235.2,294.7 235.4,302.6 235.6,257.0 235.8,281.4 235.9,269.4 236.1,301.6 236.3,301.8 236.5,309.0 236.6,282.9 236.8,299.8 237.0,301.0 237.2,298.7 237.3,291.7 237.5,273.6 237.7,300.8 237.9,295.9 238.0,307.3 238.2,297.3 238.4,253.3 238.6,269.1 238.7,305.5 238.9,295.6 239.1,269.6 239.3,303.2 239.4,298.6 239.6,272.5 239.8,275.7 240.0,258.8 240.1,291.6 240.3,265.5 240.5,302.4 240.7,297.5 240.8,269.0 241.0,270.2 241.2,311.3 241.4,308.4 241.5,264.4 241.7,280.5 241.9,277.5 242.1,282.9 242.2,274.3 242.4,296.7 242.6,284.0 242.8,292.4 242.9,293.9 243.1,295.4 243.3,267.8 243.5,280.3 243.6,265.7 243.8,296.5 244.0,295.9 244.2,296.0 244.3,268.5 244.5,264.6 244.7,291.0 244.9,303.5 245.0,294.7 245.2,267.3 245.4,300.3 245.6,289.1 245.7,277.1 245.9,308.2 246.1,298.4 246.3,276.0 246.4,299.0 246.6,276.3 246.8,287.7 247.0,273.6 247.1,270.9 247.3,265.2 247.5,275.0 247.7,297.6 247.8,300.0 248.0,317.2 248.2,297.4 248.4,268.7 248.5,290.9 248.7,308.1 248.9,281.2 249.1,270.6 249.2,280.4 249.4,308.9 249.6,295.4 249.8,294.3 249.9,253.8 250.1,304.4 250.3,294.9 250.5,305.3 250.6,293.6 250.8,265.6 251.0,281.8 251.2,268.5 251.3,298.3 251.5,283.0 251.7,299.6 251.9,273.4 252.0,266.6 252.2,280.7 252.4,231.8 252.6,275.1 252.7,301.2 252.9,285.7 253.1,275.4 253.3,276.2 253.4,281.5 253.6,277.2 253.8,292.7 254.0,283.3 254.1,290.7 254.3,291.4 254.5,240.8 254.7,273.3 254.8,267.0 255.0,292.5 255.2,289.7 255.4,305.4 255.5,266.6 255.7,278.0 255.9,276.5 256.1,270.6 256.2,261.5 256.4,304.0 256.6,289.2 256.8,283.0 256.9,292.8 257.1,290.6 257.3,281.4 257.5,275.9 257.6,289.4 257.8,289.4 258.0,319.2 258.2,285.3 258.3,300.1 258.5,293.9 258.7,279.8 258.9,291.8 259.0,311.5 259.2,284.9 259.4,282.3 259.6,304.2 259.7,278.7 259.9,278.4 260.1,278.9 260.3,293.6 260.4,264.9 260.6,289.0 260.8,277.6 261.0,292.9 261.1,267.7 261.3,297.0 261.5,302.9 261.7,302.6 261.8,291.8 262.0,282.1 262.2,306.0 262.4,303.6 262.5,269.6 262.7,285.3 262.9,271.0 263.1,260.8 263.2,285.8 263.4,293.5 263.6,273.5 263.8,287.4 263.9,270.5 264.1,304.6 264.3,280.4 264.5,288.6 264.6,305.3 264.8,276.5 265.0,278.5 265.2,285.5 265.3,290.3 265.5,268.5 265.7,276.1 265.9,286.2 266.0,268.9 266.2,289.0 266.4,271.1 266.6,305.8 266.7,282.2 266.9,302.6 267.1,306.0 267.3,304.4 267.4,304.4 267.6,226.4 267.8,285.4 268.0,308.0 268.1,286.3 268.3,269.7 268.5,279.3 268.7,294.0 268.8,293.2 269.0,297.6 269.2,290.7 269.4,284.8 269.5,302.4 269.7,275.0 269.9,275.0 270.1,317.2 270.2,288.2 270.4,286.7 270.6,297.7 270.8,285.9 270.9,288.1 271.1,257.7 271.3,275.7 271.5,266.9 271.6,295.7 271.8,304.2" fill="none" stroke="#000" stroke-width="1.3" marker-start="url(#dm)" marker-mid="url(#dm)" marker-end="url(#dm)"/>
<polyline points="350.1,293.1 350.3,293.7 350.5,299.1 350.7,298.1 350.9,291.1 351.1,293.3 351.3,292.3 351.5,294.1 351.7,289.5 351.9,293.3 352.1,294.6 352.3,298.9 352.5,296.7 352.7,296.4 352.9,290.3 353.1,299.3 353.3,289.9 353.5,295.7 353.7,293.3 353.9,290.7 354.1,289.9 354.3,288.8 354.5,291.9 354.7,290.7 354.9,297.3 355.1,283.2 355.3,286.7 355.5,282.5 355.7,290.4 355.9,275.5 356.1,279.5 356.3,284.8 356.5,268.8 356.7,288.3 356.9,287.3 357.1,293.1 357.3,294.6 357.5,280.7 357.7,277.3 357.9,280.3 358.1,288.1 358.3,291.4 358.5,281.5 358.7,278.7 358.9,276.4 359.1,277.1 359.3,279.6 359.5,281.1 359.7,295.0 359.9,284.2 360.1,281.3 360.3,285.2 360.5,276.5 360.7,277.3 360.9,280.2 361.1,287.1 361.3,272.8 361.5,289.5 361.7,280.9 361.9,282.2 362.1,288.6 362.3,289.3 362.5,293.3 362.7,286.2 362.9,281.8 363.1,283.4 363.3,271.2 363.5,288.3 363.7,274.9 363.9,265.3 364.1,294.3 364.3,283.0 364.5,268.6 364.7,293.5 364.9,280.5 365.1,289.7 365.3,274.0 365.5,274.2 365.7,260.0 365.9,259.8 366.1,259.2 366.3,269.7 366.5,282.8 366.7,296.4 366.9,275.0 367.1,286.9 367.3,272.5 367.5,272.3 367.7,256.0 367.9,252.4 368.1,255.6 368.4,252.0 368.6,247.2 368.8,261.9 369.0,285.6 369.2,279.9 369.4,278.1 369.6,289.9 369.8,286.2 370.0,277.9 370.2,274.4 370.4,272.8 370.6,287.5 370.8,289.0 371.0,284.2 371.2,288.1 371.4,272.6 371.6,280.5 371.8,259.1 372.0,286.4 372.2,279.5 372.4,277.8 372.6,281.7 372.8,275.3 373.0,270.0 373.2,283.9 373.4,276.2 373.6,262.2 373.8,271.2 374.0,252.0 374.2,278.8 374.4,269.4 374.6,268.1 374.8,283.9 375.0,283.8 375.2,277.3 375.4,276.0 375.6,279.8 375.8,283.1 376.0,271.6 376.2,268.8 376.4,278.2 376.6,272.1 376.8,274.6 377.0,273.9 377.2,256.6 377.4,253.0 377.6,246.3 377.8,250.8 378.0,272.1 378.2,255.5 378.4,273.0 378.6,276.9 378.8,267.6 379.0,264.7 379.2,264.7 379.4,254.7 379.6,257.2 379.8,260.6 380.0,268.9 380.2,273.8 380.4,258.7 380.6,270.7 380.8,257.0 381.0,259.0 381.2,265.4 381.4,263.1 381.6,261.0 381.8,264.3 382.0,256.7 382.2,253.0 382.4,256.1 382.6,268.2 382.8,261.9 383.0,276.5 383.2,267.7 383.4,243.8 383.6,247.6 383.8,268.5 384.0,261.9 384.2,255.9 384.4,249.6 384.6,266.5 384.8,269.9 385.0,268.1 385.2,265.1 385.4,274.2 385.6,271.4 385.8,248.4 386.0,261.7 386.2,259.7 386.4,255.6 386.6,264.1 386.8,258.2 387.0,232.1 387.2,260.8 387.4,268.9 387.6,256.8 387.8,249.0 388.0,222.8 388.2,235.7 388.4,249.8 388.6,247.7 388.8,245.3 389.0,237.3 389.2,237.5 389.4,259.0 389.6,268.7 389.8,262.0 390.0,253.1 390.2,240.4 390.4,253.8 390.6,268.0 390.8,237.4 391.0,227.4 391.2,229.5 391.4,238.9 391.6,250.7 391.8,236.6 392.0,232.5 392.2,247.2 392.4,260.9 392.6,251.7 392.8,268.5 393.0,252.1 393.2,274.1 393.4,264.7 393.6,263.1 393.8,265.9 394.0,263.5 394.2,281.0 394.4,275.4 394.6,272.4 394.8,259.5 395.0,244.2 395.2,243.0 395.4,250.3 395.6,251.4 395.8,252.1 396.0,252.6 396.2,257.5 396.4,240.1 396.6,237.1 396.8,257.6 397.0,233.3 397.2,249.7 397.4,263.6 397.6,249.5 397.8,248.9 398.0,235.6 398.2,254.2 398.4,253.4 398.6,262.7 398.8,262.8 399.0,257.8 399.2,256.8 399.4,265.0 399.6,257.0 399.8,254.5 400.0,255.6 400.2,261.8 400.4,265.1 400.6,269.8 400.8,262.3 401.0,268.5 401.2,256.6 401.4,262.0 401.6,260.6 401.8,271.6 402.0,268.3 402.2,259.4 402.4,264.2 402.6,264.5 402.8,260.0 403.0,258.8 403.2,253.8 403.4,275.5 403.6,270.2 403.8,273.3 404.0,258.3 404.2,253.8 404.4,259.7 404.6,262.1 404.9,270.5 405.1,259.8 405.3,268.2 405.5,278.9 405.7,264.2 405.9,273.3 406.1,262.4 406.3,268.9 406.5,271.4 406.7,281.8 406.9,268.9 407.1,270.6 407.3,278.0 407.5,264.4 407.7,268.5 407.9,263.8 408.1,263.7 408.3,273.9 408.5,277.7 408.7,284.6 408.9,285.1 409.1,286.2 409.3,279.0 409.5,275.2 409.7,277.6 409.9,264.0 410.1,285.3 410.3,277.1 410.5,271.9 410.7,275.2 410.9,287.2 411.1,294.7 411.3,285.3 411.5,288.5 411.7,286.5 411.9,279.8 412.1,286.0 412.3,287.6 412.5,278.7 412.7,292.6 412.9,281.6 413.1,289.0 413.3,284.3 413.5,284.3 413.7,285.3 413.9,293.8 414.1,286.2 414.3,289.7 414.5,300.6 414.7,292.6 414.9,293.7 415.1,297.9 415.3,293.2 415.5,297.3 415.7,293.2 415.9,298.9 416.1,297.9 416.3,292.8 416.5,302.5 416.7,298.8 416.9,296.8 417.1,293.2 417.3,294.3 417.5,296.5 417.7,298.7 417.9,303.7 418.1,294.8 418.3,296.2 418.5,303.6 418.7,301.9 418.9,302.4 419.1,307.6 419.3,304.3 419.5,303.8 419.7,301.7 419.9,308.2 420.1,307.8 420.3,300.4 420.5,302.7 420.7,296.8 420.9,303.4 421.1,303.9 421.3,300.8 421.5,298.7 421.7,293.0 421.9,300.1 422.1,299.3 422.3,298.2 422.5,301.6 422.7,297.6 422.9,296.4 423.1,295.5 423.3,292.8 423.5,305.1 423.7,300.1 423.9,297.7 424.1,301.1 424.3,291.9 424.5,294.5 424.7,296.6 424.9,293.8 425.1,297.8 425.3,290.6 425.5,294.5 425.7,299.5 425.9,289.7 426.1,289.4 426.3,292.6 426.5,294.7 426.7,292.6 426.9,296.1 427.1,296.7 427.3,289.4 427.5,292.4 427.7,287.7 427.9,286.7 428.1,286.5 428.3,293.3 428.5,292.9 428.7,302.5 428.9,289.4 429.1,290.0 429.3,293.2 429.5,292.0 429.7,294.3 429.9,293.4 430.1,289.5 430.3,284.8 430.5,284.6 430.7,295.7 430.9,295.7 431.1,298.1 431.3,290.6 431.5,289.6 431.7,286.3 431.9,290.0 432.1,289.8 432.3,291.2 432.5,297.0 432.7,288.0 432.9,291.3 433.1,283.0 433.3,290.8 433.5,286.6 433.7,286.5 433.9,287.2 434.1,294.2 434.3,288.8 434.5,284.3 434.7,278.8 434.9,283.5 435.1,279.1 435.3,278.8 435.5,280.8 435.7,285.0 435.9,278.2 436.1,283.4 436.3,291.5 436.5,274.3 436.7,285.4 436.9,290.8 437.1,279.4 437.3,281.6 437.5,269.1 437.7,275.6 437.9,273.2 438.1,276.1 438.3,268.8 438.5,266.5 438.7,267.8 438.9,266.2 439.1,265.8 439.3,268.2 439.5,262.5 439.7,266.7 439.9,272.0 440.1,258.6 440.3,264.6 440.5,261.1 440.7,256.5 440.9,254.6 441.2,254.2 441.4,254.9 441.6,263.2 441.8,252.8 442.0,267.2 442.2,256.5 442.4,264.9 442.6,271.0 442.8,253.4 443.0,266.7 443.2,277.0 443.4,263.2 443.6,265.7 443.8,260.5 444.0,260.3 444.2,257.9 444.4,254.3 444.6,263.3 444.8,267.6 445.0,261.6 445.2,272.0 445.4,272.0 445.6,268.6 445.8,255.5 446.0,272.6 446.2,273.1 446.4,245.3 446.6,243.9 446.8,248.8 447.0,262.7 447.2,270.3 447.4,259.7 447.6,260.7 447.8,265.0 448.0,249.0 448.2,260.1 448.4,255.9 448.6,258.9 448.8,257.8 449.0,247.0 449.2,244.8 449.4,253.7 449.6,257.7 449.8,281.0 450.0,266.6 450.2,256.6 450.4,244.4 450.6,248.1 450.8,250.5 451.0,251.3 451.2,264.0 451.4,262.2 451.6,266.7 451.8,264.1 452.0,255.3 452.2,264.0 452.4,254.0 452.6,255.5 452.8,243.2 453.0,250.0 453.2,247.9 453.4,254.3 453.6,270.5 453.8,270.5 454.0,270.4 454.2,230.0 454.4,262.6 454.6,257.7 454.8,247.1 455.0,249.2 455.2,248.0 455.4,243.9 455.6,263.6 455.8,250.1 456.0,245.9 456.2,257.2 456.4,246.4 456.6,237.8 456.8,238.1 457.0,252.3 457.2,256.1 457.4,256.7 457.6,248.9 457.8,241.6 458.0,258.1 458.2,239.3 458.4,245.7 458.6,236.4 458.8,242.7 459.0,247.7 459.2,263.7 459.4,233.6 459.6,257.8 459.8,245.2 460.0,253.1 460.2,261.3 460.4,281.0 460.6,249.9 460.8,256.9 461.0,252.8 461.2,244.9 461.4,251.9 461.6,253.5 461.8,237.0 462.0,261.5 462.2,258.1 462.4,232.8 462.6,235.3 462.8,264.9 463.0,271.3 463.2,262.7 463.4,238.7 463.6,245.5 463.8,260.7 464.0,259.3 464.2,251.8 464.4,245.6 464.6,257.9 464.8,252.7 465.0,255.6 465.2,258.0 465.4,267.4 465.6,259.7 465.8,257.4 466.0,240.9 466.2,257.3 466.4,261.2 466.6,255.9 466.8,240.4 467.0,244.6 467.2,251.0 467.4,264.7 467.6,261.5 467.8,261.1 468.0,261.0 468.2,263.6 468.4,251.1 468.6,248.4 468.8,245.5 469.0,250.0 469.2,251.3 469.4,254.9 469.6,248.9 469.8,254.4 470.0,250.0 470.2,269.6 470.4,258.0 470.6,270.8 470.8,271.5 471.0,255.9 471.2,265.5 471.4,266.4 471.6,249.1 471.8,261.2 472.0,259.7 472.2,263.3 472.4,254.1 472.6,258.1 472.8,263.7 473.0,260.7 473.2,256.2 473.4,258.7 473.6,252.9 473.8,262.1 474.0,247.5 474.2,268.0 474.4,265.5 474.6,268.1 474.8,272.2 475.0,257.2 475.2,278.1 475.4,261.3 475.6,267.3 475.8,268.5 476.0,276.4 476.2,269.4 476.4,257.1 476.6,266.2 476.8,253.4 477.0,259.9 477.2,262.4 477.4,280.5 477.7,272.1 477.9,268.0 478.1,264.2 478.3,292.9 478.5,264.7 478.7,276.3 478.9,263.1 479.1,268.7 479.3,260.0 479.5,268.3 479.7,274.0 479.9,264.8 480.1,267.1 480.3,273.4 480.5,280.7 480.7,284.5 480.9,278.1 481.1,269.9 481.3,264.2 481.5,277.7 481.7,286.8 481.9,283.3 482.1,289.4 482.3,279.9 482.5,277.2 482.7,287.8 482.9,277.2 483.1,282.7 483.3,283.6 483.5,282.9 483.7,290.6 483.9,281.2 484.1,280.4 484.3,274.5 484.5,275.1 484.7,278.9 484.9,281.4 485.1,283.6 485.3,287.4 485.5,284.1 485.7,278.6 485.9,285.4 486.1,290.2 486.3,283.9 486.5,283.9 486.7,297.5 486.9,298.6 487.1,299.6 487.3,298.1 487.5,295.1 487.7,291.1 487.9,295.4 488.1,293.3 488.3,291.7 488.5,293.5 488.7,294.1 488.9,299.4 489.1,292.2 489.3,304.4 489.5,294.5 489.7,293.1 489.9,299.4 490.1,292.9 490.3,292.3 490.5,294.7 490.7,287.0 490.9,288.2 491.1,288.5 491.3,292.1 491.5,296.9 491.7,299.3 491.9,304.2 492.1,304.4 492.3,304.2 492.5,298.6 492.7,301.8 492.9,293.4 493.1,294.6 493.3,302.2 493.5,301.8 493.7,291.1 493.9,291.2 494.1,298.5 494.3,299.6 494.5,302.3 494.7,288.9 494.9,286.6 495.1,290.9 495.3,288.6 495.5,292.6 495.7,294.3 495.9,296.6 496.1,294.8 496.3,297.9 496.5,300.1 496.7,297.5 496.9,288.8 497.1,299.8 497.3,297.7 497.5,298.1 497.7,296.8 497.9,285.9 498.1,294.9 498.3,290.7 498.5,285.7 498.7,299.2 498.9,294.2 499.1,296.1 499.3,300.5 499.5,305.5 499.7,287.0 499.9,286.8 500.1,296.0 500.3,290.4 500.5,282.2 500.7,287.0 500.9,293.0 501.1,298.7 501.3,297.0 501.5,292.0 501.7,294.5 501.9,293.7 502.1,290.3 502.3,294.1 502.5,296.0 502.7,287.7 502.9,298.1 503.1,300.4 503.3,300.8 503.5,281.4 503.7,288.6 503.9,290.4 504.1,285.2 504.3,293.3 504.5,282.6 504.7,296.1 504.9,295.2 505.1,289.0 505.3,298.8 505.5,295.9 505.7,293.9 505.9,282.7 506.1,290.0 506.3,297.8 506.5,298.2 506.7,282.9 506.9,293.8 507.1,297.1 507.3,294.9 507.5,285.4 507.7,274.5 507.9,273.9 508.1,275.3 508.3,280.8 508.5,284.0 508.7,276.3 508.9,267.6 509.1,271.8 509.3,267.2 509.5,282.1 509.7,270.9 509.9,277.2 510.1,281.1 510.3,271.3 510.5,279.2 510.7,274.9 510.9,269.5 511.1,266.4 511.3,270.9 511.5,277.2 511.7,263.3 511.9,271.5 512.1,270.0 512.3,265.7 512.5,267.7 512.7,268.7 512.9,268.5 513.1,273.7 513.3,264.3 513.5,279.2 513.7,277.1 513.9,266.3 514.2,255.0 514.4,261.1 514.6,260.9 514.8,268.0 515.0,270.0 515.2,275.6 515.4,267.3 515.6,269.2 515.8,261.6 516.0,258.9 516.2,270.1 516.4,262.7 516.6,260.0 516.8,257.7 517.0,261.6 517.2,265.0 517.4,261.5 517.6,253.5 517.8,261.0 518.0,255.7 518.2,257.2 518.4,262.0 518.6,264.1 518.8,249.5 519.0,269.6 519.2,271.4 519.4,276.7 519.6,277.1 519.8,265.5 520.0,260.2 520.2,264.1 520.4,270.5 520.6,261.1 520.8,259.0 521.0,268.9 521.2,256.4 521.4,260.5 521.6,268.6 521.8,260.2 522.0,265.4 522.2,259.6 522.4,245.1 522.6,248.2 522.8,251.7 523.0,251.5 523.2,254.0 523.4,258.2 523.6,258.8 523.8,258.1 524.0,252.5 524.2,252.3 524.4,250.9 524.6,248.3 524.8,265.6 525.0,241.0 525.2,252.4 525.4,239.3 525.6,243.3 525.8,258.9 526.0,253.6 526.2,268.8 526.4,250.1 526.6,250.2 526.8,246.5 527.0,252.0 527.2,250.4 527.4,249.1 527.6,253.6 527.8,266.2 528.0,260.1 528.2,256.9 528.4,252.3 528.6,246.6 528.8,239.9 529.0,240.3 529.2,249.1 529.4,241.1 529.6,253.3 529.8,250.2 530.0,245.1 530.2,246.7 530.4,256.4 530.6,257.5 530.8,257.0 531.0,267.1 531.2,268.4 531.4,251.7 531.6,258.6 531.8,249.0 532.0,240.8 532.2,243.7 532.4,256.3 532.6,250.4 532.8,246.7 533.0,260.2 533.2,257.7 533.4,251.7 533.6,265.3 533.8,258.8 534.0,245.9 534.2,237.8 534.4,240.5 534.6,246.5 534.8,255.5 535.0,257.6 535.2,251.7 535.4,238.2 535.6,251.7 535.8,258.2 536.0,237.5 536.2,232.1 536.4,228.7 536.6,248.4 536.8,255.4 537.0,239.3 537.2,264.4 537.4,236.9 537.6,245.4 537.8,263.7 538.0,267.9 538.2,247.8 538.4,258.8 538.6,270.8 538.8,270.0 539.0,249.1 539.2,274.1 539.4,242.7 539.6,252.1 539.8,242.1 540.0,246.4 540.2,249.2 540.4,260.1 540.6,243.2 540.8,254.9 541.0,271.5 541.2,263.3 541.4,265.8 541.6,265.5 541.8,252.1 542.0,251.9 542.2,256.6 542.4,263.2 542.6,279.5 542.8,279.5 543.0,263.5 543.2,256.9 543.4,249.1 543.6,244.0 543.8,264.8 544.0,267.9 544.2,246.2 544.4,257.0 544.6,279.9 544.8,274.2 545.0,271.8 545.2,268.6 545.4,259.5 545.6,253.2 545.8,254.1 546.0,262.9 546.2,263.0 546.4,270.9 546.6,281.7 546.8,277.3 547.0,277.6 547.2,268.5 547.4,258.2 547.6,281.8 547.8,279.0 548.0,281.8 548.2,271.0 548.4,257.7 548.6,275.8 548.8,257.9 549.0,264.9 549.2,265.3 549.4,271.2 549.6,277.6 549.8,280.0 550.0,260.8 550.2,275.7 550.5,261.4 550.7,274.0 550.9,270.9 551.1,265.0 551.3,267.3 551.5,262.5 551.7,270.6 551.9,280.7 552.1,283.5 552.3,278.9 552.5,285.6 552.7,283.6 552.9,291.0 553.1,287.9 553.3,276.3 553.5,274.8 553.7,270.6 553.9,273.1 554.1,275.3 554.3,283.3 554.5,287.0 554.7,282.4 554.9,284.0 555.1,275.3 555.3,274.0 555.5,266.4 555.7,266.9 555.9,272.1 556.1,295.2 556.3,276.8 556.5,280.5 556.7,279.0 556.9,269.4 557.1,279.9 557.3,281.9 557.5,272.2 557.7,271.0 557.9,276.1 558.1,271.8 558.3,284.4 558.5,282.6 558.7,287.6 558.9,284.0 559.1,294.9 559.3,293.3 559.5,297.2 559.7,291.1 559.9,282.1 560.1,277.0 560.3,280.9 560.5,287.0 560.7,284.1 560.9,297.8 561.1,292.2 561.3,292.4 561.5,290.7 561.7,283.6 561.9,292.8 562.1,294.1 562.3,295.8 562.5,288.4 562.7,290.6 562.9,291.4 563.1,297.5 563.3,288.4 563.5,294.8 563.7,300.0 563.9,294.7 564.1,291.5 564.3,299.9 564.5,298.5 564.7,302.1 564.9,302.0 565.1,303.3 565.3,298.6 565.5,290.0 565.7,296.8 565.9,294.4 566.1,298.5 566.3,295.7 566.5,302.3 566.7,298.0 566.9,300.1 567.1,301.6 567.3,298.3 567.5,298.4 567.7,297.3 567.9,294.3 568.1,300.1 568.3,295.4 568.5,292.1 568.7,293.8 568.9,295.9 569.1,296.3 569.3,295.2 569.5,294.3 569.7,290.6 569.9,294.9 570.1,300.0 570.3,294.5 570.5,289.4 570.7,294.8 570.9,293.9 571.1,288.4 571.3,288.1 571.5,287.8 571.7,287.5 571.9,297.5 572.1,297.8 572.3,293.9 572.5,293.0 572.7,298.0 572.9,290.4 573.1,294.1 573.3,290.6 573.5,294.4 573.7,293.6 573.9,290.0 574.1,294.8 574.3,294.7 574.5,297.3 574.7,292.9 574.9,292.6 575.1,289.8 575.3,294.8 575.5,290.3 575.7,291.0 575.9,295.3 576.1,294.3 576.3,293.2 576.5,292.7 576.7,292.7 576.9,293.4 577.1,290.5 577.3,284.2 577.5,291.9 577.7,286.3 577.9,294.6 578.1,291.6 578.3,294.7 578.5,294.5 578.7,292.6 578.9,292.8 579.1,282.2 579.3,285.3 579.5,283.5 579.7,284.4 579.9,275.4 580.1,274.7 580.3,282.1 580.5,283.0 580.7,280.2 580.9,281.0 581.1,277.6 581.3,277.1 581.5,284.2 581.7,280.5 581.9,258.5 582.1,277.0 582.3,267.1 582.5,269.4 582.7,274.5 582.9,268.3 583.1,271.5 583.3,271.4 583.5,283.4 583.7,287.0 583.9,290.5 584.1,274.5 584.3,278.8 584.5,289.4 584.7,282.3 584.9,277.1 585.1,268.4 585.3,280.7 585.5,278.4 585.7,285.3 585.9,276.6 586.1,290.4 586.3,280.5 586.5,264.7 586.7,272.1 587.0,277.0 587.2,285.7 587.4,272.9 587.6,267.7 587.8,268.2 588.0,267.1 588.2,256.8 588.4,270.6 588.6,281.7 588.8,267.9 589.0,260.9 589.2,265.7 589.4,261.2 589.6,273.7 589.8,265.4 590.0,273.3 590.2,259.4 590.4,253.3 590.6,252.9 590.8,252.6 591.0,265.0 591.2,274.4 591.4,271.2 591.6,270.5 591.8,251.0 592.0,270.2 592.2,256.1 592.4,274.3 592.6,281.5 592.8,274.4 593.0,273.7 593.2,273.1 593.4,254.9 593.6,249.9 593.8,252.0 594.0,260.2 594.2,269.1 594.4,265.3 594.6,272.8 594.8,260.3 595.0,247.4 595.2,255.9 595.4,257.8 595.6,245.7 595.8,263.7 596.0,251.9 596.2,250.1 596.4,257.8 596.6,249.3 596.8,260.7 597.0,262.5 597.2,263.6 597.4,260.3 597.6,255.5 597.8,251.8 598.0,258.4 598.2,268.2 598.4,267.2 598.6,263.9 598.8,266.9 599.0,269.5 599.2,254.3 599.4,256.6 599.6,224.8 599.8,256.7 600.0,254.9 600.2,260.8 600.4,257.8 600.6,265.4 600.8,258.8 601.0,262.1 601.2,268.6 601.4,268.6 601.6,254.4 601.8,250.4 602.0,249.2 602.2,254.6 602.4,248.2 602.6,258.0 602.8,268.6 603.0,268.6 603.2,257.9 603.4,256.2 603.6,255.4 603.8,251.8 604.0,266.4 604.2,256.5 604.4,250.3 604.6,257.4 604.8,259.7 605.0,268.1" fill="none" stroke="#000" stroke-width="1.3" marker-start="url(#dm)" marker-mid="url(#dm)" marker-end="url(#dm)"/>
<text x="120.7" y="171.0" font-family='"Liberation Serif", serif' font-size="15.8">Time</text>
<text x="155.9" y="171.0" font-family='"Liberation Serif", serif' font-size="15.8">(</text>
<text x="159.8" y="171.0" font-family='"Liberation Serif", serif' font-size="15.8" textLength="36.4" lengthAdjust="spacing">days)</text>
<text x="433.7" y="171.0" font-family='"Liberation Serif", serif' font-size="15.8">Time</text>
<text x="468.9" y="171.0" font-family='"Liberation Serif", serif' font-size="15.8">(</text>
<text x="472.8" y="171.0" font-family='"Liberation Serif", serif' font-size="15.8" textLength="35.7" lengthAdjust="spacing">days)</text>
<text x="124.3" y="359.4" font-family='"Liberation Serif", serif' font-size="15.8">Time</text>
<text x="159.5" y="359.4" font-family='"Liberation Serif", serif' font-size="15.8">(</text>
<text x="163.4" y="359.4" font-family='"Liberation Serif", serif' font-size="15.8" textLength="36.9" lengthAdjust="spacing">days)</text>
<text x="439.7" y="359.4" font-family='"Liberation Serif", serif' font-size="15.8">Time</text>
<text x="474.9" y="359.4" font-family='"Liberation Serif", serif' font-size="15.8">(</text>
<text x="478.8" y="359.4" font-family='"Liberation Serif", serif' font-size="15.8" textLength="37.3" lengthAdjust="spacing">days)</text>
<text transform="translate(12.2 74.2) rotate(-90)" x="0" y="0" font-family='"Liberation Serif", serif' font-size="17.6" text-anchor="middle">Temperature (°C)</text>
<text transform="translate(308.4 151.6) rotate(-90)" x="0" y="0" font-family='"Liberation Serif", serif' font-size="17.3" textLength="58.6" lengthAdjust="spacing">Relative</text>
<text transform="translate(308.4 92.0) rotate(-90)" x="0" y="0" font-family='"Liberation Serif", serif' font-size="17.3" textLength="93.3" lengthAdjust="spacing">humidity (%)</text>
<text transform="translate(12.4 267.3) rotate(-90)" x="0" y="0" font-family='"Liberation Serif", serif' font-size="17.2" text-anchor="middle">Wind speed (m/s)</text>
<text transform="translate(308.1 304.8) rotate(-90)" x="0" y="0" font-family='"Liberation Serif", serif' font-size="16.0" textLength="26.0" lengthAdjust="spacing">ETo</text>
<text transform="translate(308.1 275.3) rotate(-90)" x="0" y="0" font-family='"Liberation Serif", serif' font-size="17.3" textLength="52.6" lengthAdjust="spacing">(mm/d)</text>
<text x="236.0" y="38.7" font-family='"Liberation Sans", sans-serif' font-size="20.0" text-anchor="middle">a</text>
<text x="520.6" y="44.8" font-family='"Liberation Sans", sans-serif' font-size="20.0" text-anchor="middle">b</text>
<text x="218.3" y="229.8" font-family='"Liberation Sans", sans-serif' font-size="20.0" text-anchor="middle">c</text>
<text x="562.8" y="233.6" font-family='"Liberation Sans", sans-serif' font-size="20.0" text-anchor="middle">d</text>
</svg>
</body></html>
